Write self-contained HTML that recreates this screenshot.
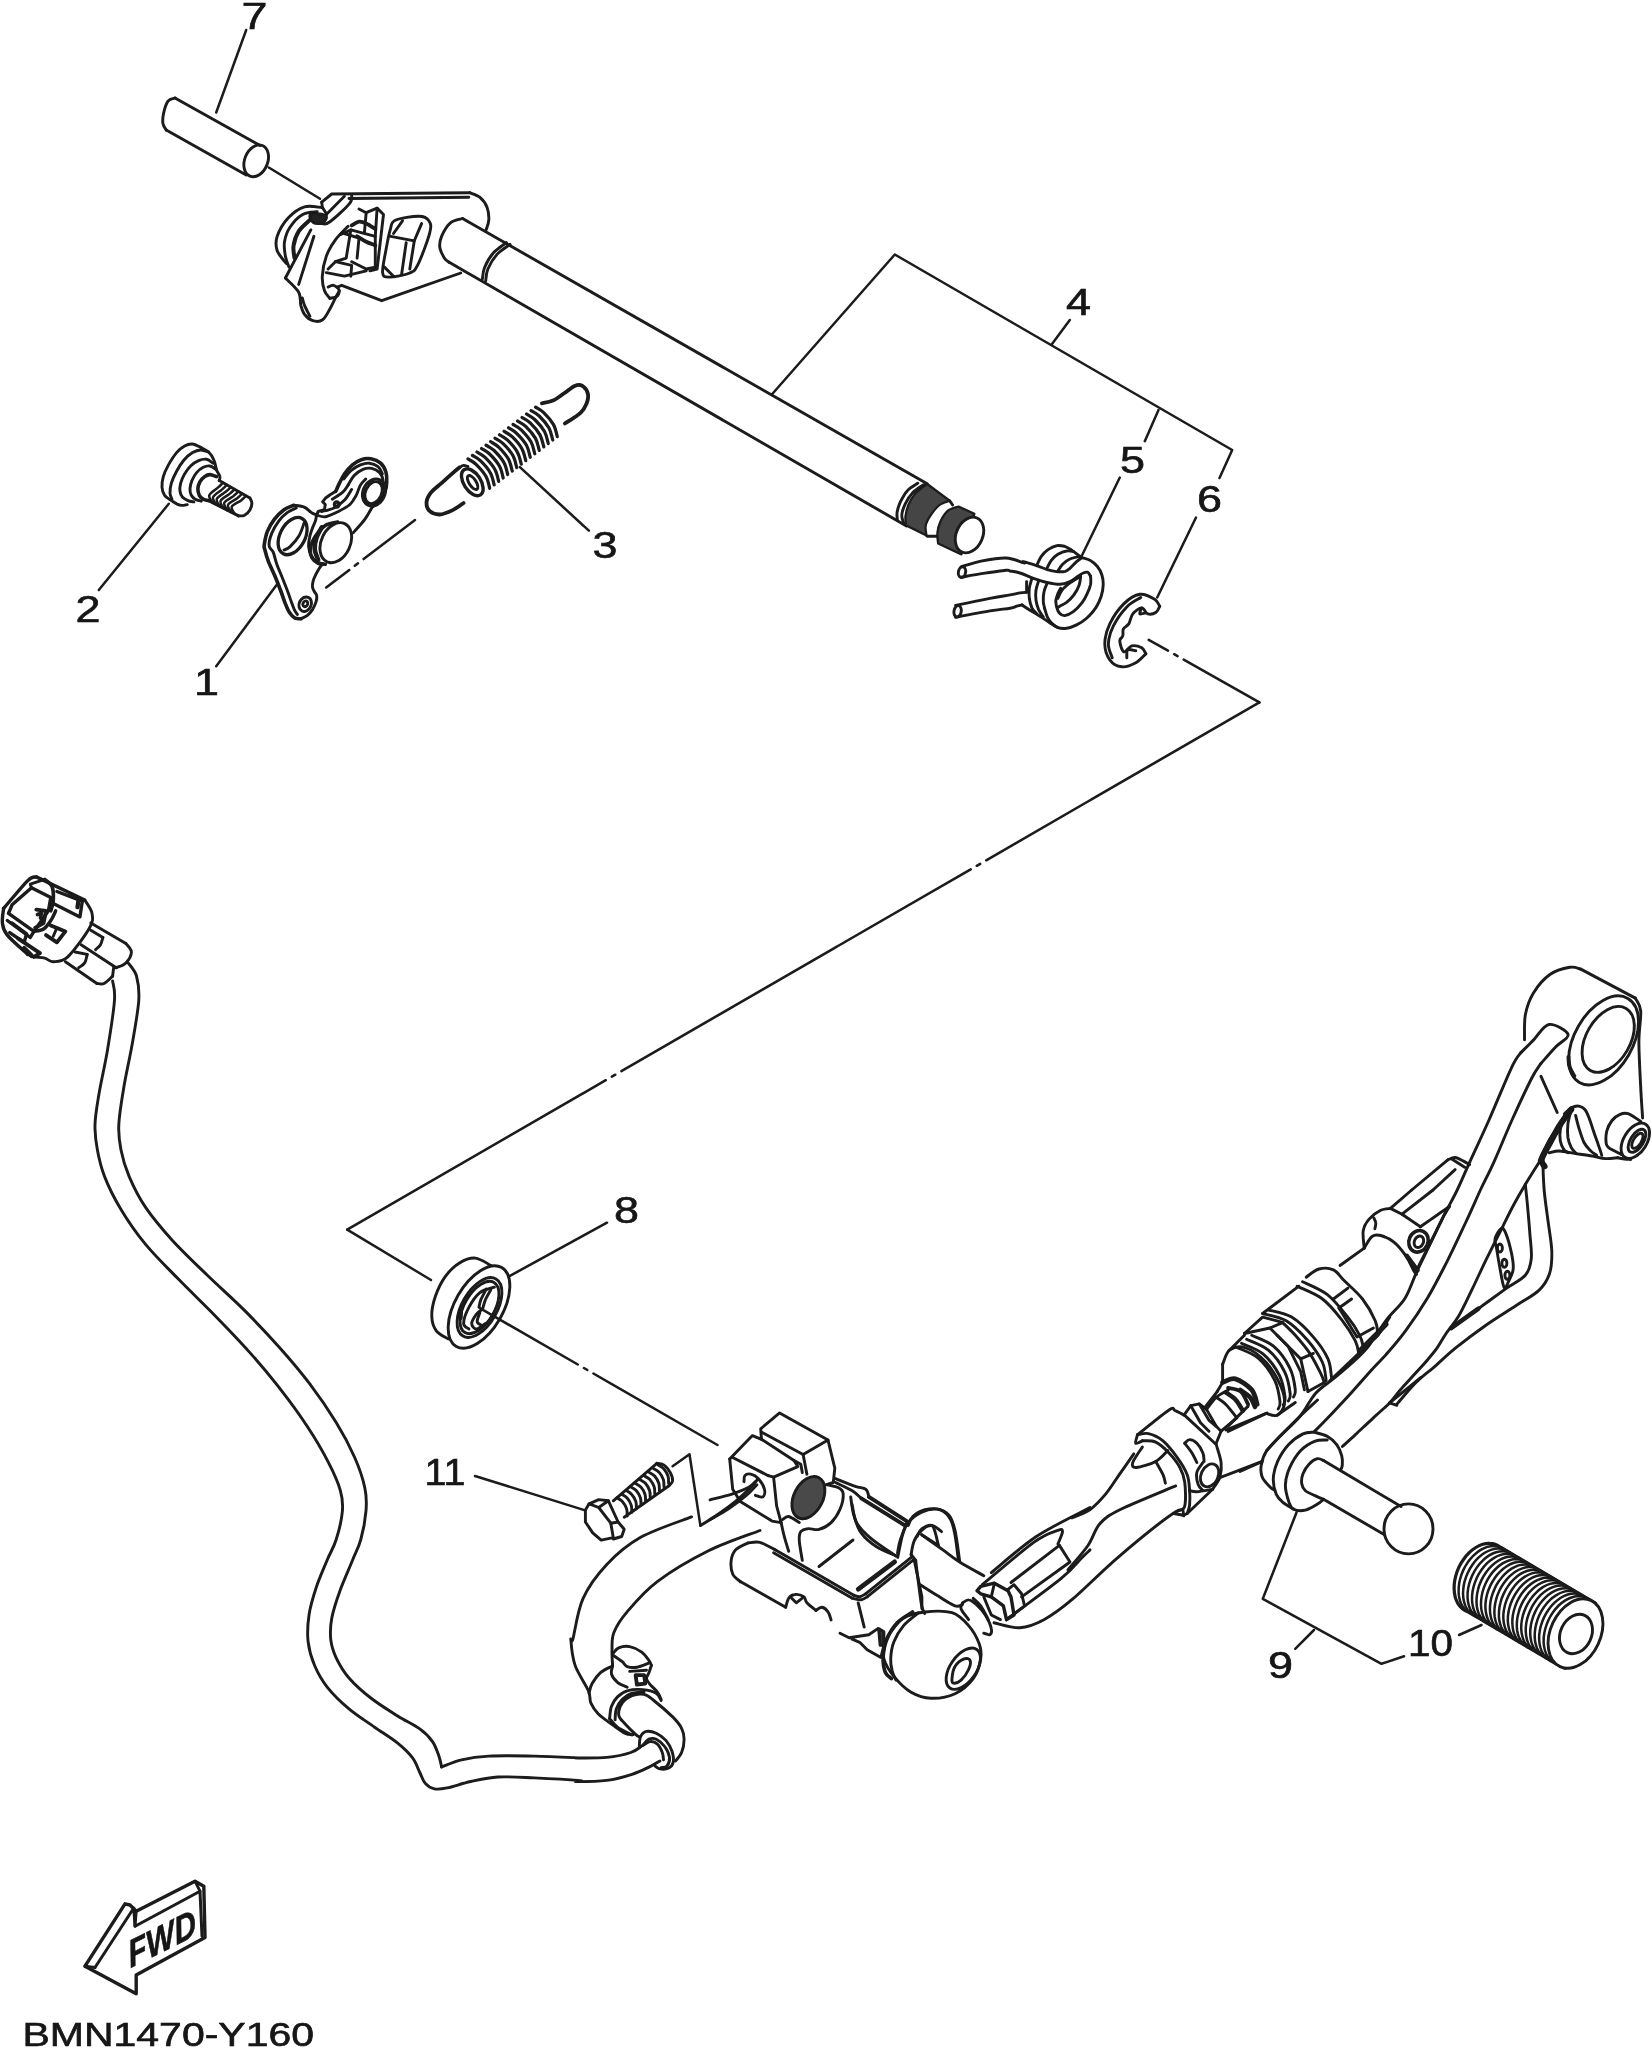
<!DOCTYPE html>
<html lang="en">
<head>
<meta charset="utf-8">
<title>BMN1470-Y160</title>
<style>
html,body{margin:0;padding:0;background:#fff;}
body{width:1652px;height:2049px;overflow:hidden;}
svg{display:block;}
svg path, svg ellipse, svg line, svg circle{fill:none;stroke:#1a1a1a;stroke-width:2.9;stroke-linecap:round;stroke-linejoin:round;}
svg text{font-family:"Liberation Sans",Arial,Helvetica,sans-serif;fill:#141414;stroke:#141414;stroke-width:0.6px;}
</style>
</head>
<body>
<svg width="1652" height="2049" viewBox="0 0 1652 2049">
<defs><filter id="soft" x="-2%" y="-2%" width="104%" height="104%"><feGaussianBlur stdDeviation="0.55"/></filter></defs>
<rect x="0" y="0" width="1652" height="2049" fill="#ffffff" stroke="none"/>
<g filter="url(#soft)">
<!-- pin 7 -->
<path d="M260 145.5 L175 98"/>
<path d="M175 98 C173.8 98.5 169.9 98.6 168 101.2 C166.1 103.9 164.3 110 163.5 113.8 C162.7 117.5 162.5 121 163 123.8 C163.5 126.5 165.7 129 166.2 130"/>
<path d="M166.2 130 L246.2 175"/>
<ellipse cx="256.2" cy="160.8" rx="11.5" ry="16.5" transform="rotate(22 256.2 160.8)"/>
<path d="M246.2 30 L216.2 112.5" style="stroke-width:2.5;"/>
<path d="M268.8 167.5 L320 198.8" style="stroke-width:2.5;"/>
<text x="241.5" y="29" font-size="37" textLength="26" lengthAdjust="spacingAndGlyphs">7</text>
<!-- shift shaft lever (4) -->
<path d="M321.7 202.1 L331.7 194 L469.7 192.7"/>
<path d="M349 198.5 L468.8 197.2"/>
<path d="M469.7 192.7 C471.4 193.4 476.8 194.8 479.7 197.2 C482.6 199.6 485.5 203.4 487 207.2 C488.5 211 489 216.1 488.8 219.9 C488.7 223.7 486.5 228.3 486.1 229.9"/>
<path d="M460.7 273 L381.7 300.7 L341.7 285.3 L337.2 287.1"/>
<path d="M462.5 218.5 C460.5 219.2 454.1 219.7 450.7 222.7 C447.2 225.6 443.4 232.2 441.6 236.3 C439.8 240.4 439.3 243.5 439.8 247.2 C440.2 250.8 442.8 255.6 444.3 258.1 C445.8 260.5 448.1 261.4 448.8 262.1"/>
<path d="M462.5 218.5 L927.2 483.8"/>
<path d="M448.8 262.1 L906.5 526"/>
<path d="M510 244.4 C507.9 246.1 500.7 250.3 497 254.4 C493.3 258.5 489.8 264.6 487.9 269 C486 273.3 486.1 278.8 485.7 280.8"/>
<path d="M506.4 242.6 C504.2 244.4 497 248.8 493.3 253 C489.7 257.1 486.4 263.2 484.6 267.5 C482.8 271.8 482.8 277 482.4 278.9"/>
<path d="M395.3 220.3 C400.1 218 413.3 216.2 418.9 216.3 C424.5 216.4 427.1 218.1 428.9 220.8 C430.7 223.6 431.6 225.4 429.8 232.6 C428 239.9 421.3 257.7 418 264.4 C414.6 271.1 414.6 270.8 409.8 273 C405 275.1 393.5 277.2 388.9 277.1 C384.4 277.1 383.1 277 382.6 272.6 C382.1 268.2 384.6 257.9 385.8 250.8 C387.1 243.7 388.6 235 390.2 229.9 C391.8 224.8 390.5 222.6 395.3 220.3Z"/>
<path d="M390.7 236.3 L414.3 240.8 L409.8 269"/>
<path d="M414.3 240.8 L421.6 223.6"/>
<path d="M406.2 242.6 L401.6 274.4"/>
<path d="M393.5 233.5 L402.5 220.8"/>
<path d="M384.4 267.1 L393.5 276.2"/>
<path d="M310.8 229.9 L285.4 278"/>
<path d="M285.4 278 C287.6 280.4 296.1 287.7 298.7 292.2 C301.2 296.7 299.9 301.6 300.8 305.3 C301.8 309 302.5 311.8 304.5 314.4 C306.4 316.9 309.6 319.8 312.7 320.7 C315.7 321.6 319.8 321.8 322.6 319.8 C325.5 317.8 327.8 312.5 329.9 308.9 C332 305.3 333.8 301 335.4 298 C336.9 295 338.7 292.3 339.3 291.1"/>
<path d="M313.9 236.3 L298.7 284.4"/>
<path d="M302.3 298 C302.7 299.2 303.2 302.3 304.5 305.3 C305.8 308.3 309 314.4 309.9 316.2"/>
<path d="M348.1 226.3 C345.9 228.6 339 234.9 335.4 239.9 C331.7 244.9 328.5 250.2 326.3 256.2 C324.1 262.3 322.6 270.5 322.3 276.2 C322 282 323.2 287.1 324.5 290.8 C325.7 294.4 329 297.1 329.9 298.4"/>
<path d="M329.9 298.4 C331.1 298 335.7 297.6 337.2 296.2 C338.7 294.8 339.6 291.7 339 289.8 C338.4 288 335.4 285.8 333.5 285.3 C331.7 284.8 329 286.8 328.1 287.1"/>
<path d="M321.7 202.1 C321.9 203 321.9 205.5 322.6 207.6 C323.4 209.6 326.3 212 326.3 214.5 C326.3 217 323.2 221.3 322.6 222.7"/>
<path d="M351.7 194.9 C351.3 196.3 353.1 199.1 349.5 203.6 C345.9 208.1 334.5 218.4 329.9 221.7 C325.3 225.1 325.1 223.9 321.7 223.6 C318.4 223.3 311.9 220.5 309.9 219.9"/>
<path d="M344.4 196.3 L326.3 214.5"/>
<path d="M321.7 207.6 C318.9 207.5 310.1 205.1 304.5 206.9 C298.9 208.6 292.7 213.2 288.1 218.1 C283.6 223 279.1 230.8 277.2 236.3 C275.4 241.7 275.7 246.3 277.2 250.8 C278.8 255.3 284.8 261.4 286.3 263.5"/>
<path d="M317.2 211.8 C314.8 212.2 307.2 211.9 302.7 214.5 C298.1 217.1 293 222.7 290 227.2 C286.9 231.7 285.3 236.9 284.5 241.7 C283.7 246.6 284.7 252 285.4 256.2 C286.2 260.5 288.4 265.3 289 267.1"/>
<path d="M309.9 219.9 C308.1 221.7 301.8 226.6 299 230.8 C296.3 235.1 294.3 240.8 293.6 245.4 C292.8 249.9 294.3 255.9 294.5 258.1" style="stroke-width:4;"/>
<path d="M309.9 215.4 C310.5 213.9 314.5 213.4 317.2 213.6 C319.9 213.7 325.4 214.8 326.3 216.3 C327.2 217.8 324.8 221.6 322.6 222.7 C320.5 223.7 315.7 223.9 313.6 222.7 C311.4 221.4 309.3 216.9 309.9 215.4Z" style="fill:#222;"/>
<path d="M350.8 229.9 L375.3 236.3 L375.3 267.1 L366.2 269 L351.7 261.7"/>
<path d="M359 209 L366.2 212.7 L364.4 232.6"/>
<path d="M366.2 212.7 L377.1 208.1 L383.5 214.5 L377.1 269 L369.9 270.8"/>
<path d="M377.1 208.1 L375.3 236.3"/>
<path d="M340.8 234.5 L350.8 229.9 L346.2 258.1 L335.4 261.7 L328.1 269"/>
<path d="M335.4 261.7 L351.7 265.3 L350.8 276.2"/>
<path d="M326.3 272.6 L344.4 276.2 L366.2 270.8"/>
<path d="M351.7 225.4 C352.9 224.8 356.5 222 359 221.7 C361.4 221.4 363.5 222.3 366.2 223.6 C368.9 224.8 373.8 228.1 375.3 229" style="stroke-width:3.8;"/>
<path d="M357.1 236.3 C358.7 237.2 363.2 240.2 366.2 241.7 C369.2 243.2 373.8 244.7 375.3 245.4" style="stroke-width:3.8;"/>
<path d="M344.4 233.5 L359 238.1 L357.1 258.1"/>
<!-- shaft end splines -->
<path d="M917.8 483.2 C916.1 484.5 910.5 487.4 907.6 490.5 C904.7 493.7 902.1 498.5 900.3 502.1 C898.6 505.8 897.6 509.3 897.1 512.3 C896.6 515.3 897.4 519 897.4 520.3"/>
<path d="M923.6 484.7 C921.8 486 915.7 489.5 912.7 492.7 C909.7 495.8 907.2 499.8 905.4 503.6 C903.6 507.3 902 511.8 901.8 515.2 C901.5 518.6 903.6 522.5 904 523.9"/>
<path d="M927.2 484 C925.2 485.7 918 490.6 914.9 494.1 C911.7 497.7 909.9 501.3 908.3 505 C906.8 508.8 905.8 513.3 905.4 516.7 C905.1 520 906 523.9 906.2 525.4 L926.5 535.5 C926.4 533.8 925 528.8 925.8 525.4 C926.5 522 928.5 518.6 930.8 515.2 C933.1 511.8 936.4 507.5 939.6 505 C942.7 502.6 948 501.4 949.7 500.7 Z" style="fill:#444;stroke-width:2.2"/>
<path d="M949.7 500.7 L952.6 505"/>
<path d="M927.2 536.3 L937.4 536.3"/>
<path d="M958.5 506.5 C956.6 507.2 950.6 508.3 947.6 510.8 C944.5 513.4 942 518.1 940.3 521.7 C938.6 525.4 937.7 529 937.4 532.6 C937 536.3 938 541.7 938.1 543.5 L961.4 554.4 L974.4 513.8 Z" style="fill:#444;stroke-width:2.2"/>
<ellipse cx="969.5" cy="535" rx="13.2" ry="18.6" transform="rotate(24 969.5 535)" style="fill:#fff;"/>
<!-- bracket line 4/5/6 -->
<path d="M771.8 394.5 L894.8 254.5 L1232.2 450 L1219.5 478" style="stroke-width:2.5;"/>
<path d="M1069.8 320 L1052.2 343.8" style="stroke-width:2.5;"/>
<path d="M1158.5 410 L1144.8 441.2" style="stroke-width:2.5;"/>
<path d="M1119.8 477.5 L1082.2 555" style="stroke-width:2.5;"/>
<path d="M1196 517.5 L1157.2 597.5" style="stroke-width:2.5;"/>
<text x="1066" y="314.5" font-size="37" textLength="25" lengthAdjust="spacingAndGlyphs">4</text>
<text x="1120" y="472.5" font-size="37" textLength="25" lengthAdjust="spacingAndGlyphs">5</text>
<text x="1197" y="511.5" font-size="37" textLength="25" lengthAdjust="spacingAndGlyphs">6</text>
<!-- torsion spring 5 -->
<path d="M961 566.9 C964.1 566 972.5 562.8 980 561.3 C987.4 559.9 998.6 557.7 1005.9 558 C1013.2 558.2 1021 562.3 1023.9 562.9 C1026.8 563.6 1021.2 561.2 1023.3 561.6 C1025.4 562.1 1032.6 564.3 1036.6 565.6 C1040.6 567 1044 568.6 1047.3 569.6 C1050.6 570.6 1053.6 571.3 1056.6 571.6 C1059.6 571.9 1063 571.8 1065.3 571.3 C1067.5 570.7 1068 569.9 1069.9 568.3 C1071.8 566.7 1074.6 563.4 1076.6 561.6 C1078.6 559.9 1081 558.3 1081.9 557.6"/>
<path d="M961 577.3 C964.1 576.8 972.5 575.1 980 573.9 C987.4 572.8 1000.9 570.8 1005.9 570.3 C1010.9 569.8 1007.7 570.5 1010 571 C1012.3 571.4 1016.1 571.7 1020 573 C1023.9 574.2 1028.9 576.7 1033.3 578.3 C1037.7 579.8 1042.2 581.3 1046.6 582.3 C1051.1 583.3 1056.1 584.4 1059.9 584.3 C1063.8 584.2 1066.9 582.9 1069.9 581.6 C1072.9 580.3 1075.7 577.7 1077.9 576.3 C1080.1 574.8 1081.6 573.6 1083.2 573 C1084.9 572.3 1086.7 571.7 1087.9 572.3 C1089.1 572.8 1090.1 575.6 1090.6 576.3"/>
<ellipse cx="962" cy="572.1" rx="3.6" ry="5.4" transform="rotate(10 962 572.1)"/>
<path d="M955.6 605.3 C961.3 604.1 980.9 600 989.9 598.3 C999 596.6 1005 595.8 1010 594.9 C1015 594 1017.2 593.4 1020 592.9 C1022.8 592.5 1025.5 592.4 1026.6 592.3"/>
<path d="M955.6 617.3 C961.3 616.2 980.9 612.4 989.9 610.9 C999 609.4 1005.5 609 1010 608.2 C1014.5 607.5 1014.7 606.8 1016.7 606.2 C1018.7 605.7 1021.1 605.1 1022 604.9"/>
<ellipse cx="957.6" cy="611.3" rx="3.6" ry="5.8" transform="rotate(10 957.6 611.3)"/>
<path d="M1081.9 557.6 C1083.2 558.1 1087.4 558.9 1089.9 560.3 C1092.5 561.7 1095.2 563.9 1097.2 566.3 C1099.2 568.7 1100.9 571.8 1101.9 575 C1102.9 578.1 1103.3 581.4 1103.2 584.9 C1103.1 588.5 1102.4 592.5 1101.2 596.3 C1100 600 1098.3 603.9 1095.9 607.6 C1093.5 611.2 1089.8 615.3 1086.6 618.2 C1083.4 621.1 1079.9 623.2 1076.6 624.9 C1073.3 626.6 1069.7 627.8 1066.6 628.2 C1063.5 628.7 1060.5 628.4 1057.9 627.6 C1055.4 626.7 1053.1 624.7 1051.3 622.9 C1049.5 621.1 1048.4 619.3 1047.3 616.9 C1046.2 614.5 1045.1 609.7 1044.6 608.2"/>
<path d="M1090.6 576.3 C1090.6 577.6 1091.1 581.4 1090.6 584.3 C1090 587.2 1088.7 590.5 1087.2 593.6 C1085.8 596.7 1084.2 599.9 1081.9 602.9 C1079.6 605.9 1076.1 609.5 1073.3 611.6 C1070.4 613.7 1066.9 615.3 1064.6 615.6 C1062.3 615.8 1060.6 614.3 1059.3 612.9 C1057.9 611.5 1057.2 609 1056.6 606.9 C1056.1 604.8 1055.7 602.5 1055.9 600.3 C1056.2 598 1057.2 595.6 1057.9 593.6 C1058.7 591.6 1060.2 589.2 1060.6 588.3"/>
<path d="M1080.6 576.3 C1080.4 577.7 1080.4 581.8 1079.2 584.9 C1078.1 588 1076 592 1073.9 594.9 C1071.8 597.8 1069.2 600.3 1066.6 602.3 C1064 604.2 1059.9 606.1 1058.6 606.9"/>
<path d="M1080.6 576.3 C1078.8 577.4 1073 580.6 1069.9 582.9 C1066.8 585.3 1063.9 587.7 1061.9 590.3 C1059.9 592.8 1058.6 596.9 1057.9 598.3"/>
<path d="M1037.3 564.3 C1038 563 1039.5 558.7 1041.3 556.3 C1043.1 553.9 1045.4 551.4 1048 549.6 C1050.5 547.9 1053.8 546.2 1056.6 545.7 C1059.4 545.1 1062.4 545.8 1064.6 546.3 C1066.8 546.9 1067 547.1 1069.9 549 C1072.8 550.9 1079.9 556.2 1081.9 557.6"/>
<path d="M1047.3 567.6 C1048 566.4 1049.5 562.5 1051.3 560.3 C1053.1 558.1 1055.4 555.9 1057.9 554.3 C1060.5 552.8 1063.9 551.4 1066.6 551 C1069.3 550.5 1072.7 551.5 1073.9 551.6"/>
<path d="M1057.9 571 C1058.7 569.8 1060.6 566.3 1062.6 564.3 C1064.6 562.3 1067 560.3 1069.9 559 C1072.8 557.6 1078.3 556.8 1079.9 556.3"/>
<path d="M1032 578.3 C1031.5 579.9 1029.8 584.9 1029.3 588.3 C1028.9 591.6 1028.9 594.9 1029.3 598.3 C1029.8 601.6 1030.8 605.7 1032 608.2 C1033.2 610.8 1035.9 612.7 1036.6 613.6"/>
<path d="M1038.6 580.9 C1038.2 582.5 1036.4 587 1036 590.3 C1035.5 593.5 1035.5 597 1036 600.3 C1036.4 603.5 1037.4 606.8 1038.6 609.6 C1039.9 612.4 1042.5 615.7 1043.3 616.9"/>
<path d="M1047.3 582.9 C1046.7 584.4 1044.6 588.5 1044 591.6 C1043.3 594.7 1043.2 598.8 1043.3 601.6 C1043.4 604.4 1044.4 607.1 1044.6 608.2"/>
<path d="M1026.6 592.3 L1026.6 581.6"/>
<path d="M1022 604.9 C1023.3 605.8 1027 608.4 1030 610.2 C1033 612.1 1036.6 614.1 1040 616.2 C1043.3 618.3 1047 621 1050 622.9 C1052.9 624.8 1056.6 626.8 1057.9 627.6"/>
<!-- e-clip 6 -->
<path d="M1159.7 606.3 C1158.9 605.1 1158.1 601.3 1154.7 599.3 C1151.4 597.3 1144.9 593.5 1139.8 594.3 C1134.6 595.1 1128.8 599 1123.8 603.9 C1118.8 608.8 1113 617.2 1109.8 623.9 C1106.6 630.5 1104.8 637.9 1104.8 643.8 C1104.8 649.8 1107 656 1109.8 659.8 C1112.6 663.7 1117.5 666.3 1121.8 666.8 C1126.1 667.3 1131.8 665 1135.8 662.8 C1139.8 660.7 1144.1 655.3 1145.8 653.8"/>
<path d="M1140.8 597.5 C1138.4 599.1 1131.3 602.2 1126.8 606.9 C1122.2 611.6 1116.5 619.7 1113.4 625.9 C1110.3 632 1108.6 638.5 1108.4 643.8 C1108.2 649.2 1111.6 655.5 1112.2 657.8"/>
<path d="M1159.7 606.3 C1159.1 607.3 1158.1 611 1156.1 612.3 C1154.1 613.6 1150.1 614.6 1147.7 613.9 C1145.4 613.2 1144.3 607.9 1141.8 607.9 C1139.3 607.9 1134.9 611.2 1132.8 613.9 C1130.6 616.5 1130.3 621.4 1128.8 623.9 C1127.2 626.4 1124.4 626.9 1123.4 628.9 C1122.4 630.9 1123.4 633.9 1122.8 635.9 C1122.2 637.9 1119.6 638.2 1119.8 640.9 C1119.9 643.5 1121.8 651 1123.8 651.8 C1125.8 652.7 1128.8 646.5 1131.8 645.8 C1134.8 645.2 1139.4 646.5 1141.8 647.8 C1144.1 649.2 1145.1 652.8 1145.8 653.8"/>
<path d="M1141.8 607.9 C1141.4 608.9 1139.1 613.1 1139.8 613.9 C1140.4 614.7 1144.8 613.1 1145.8 612.9"/>
<path d="M1126.8 657.8 C1126.9 656.5 1126.3 651 1127.8 649.8 C1129.3 648.7 1134.4 650.7 1135.8 650.8"/>
<path d="M1148.7 639.9 L1168 650.7" style="stroke-width:2.5;"/>
<path d="M1174.1 654.2 L1177.6 656.2" style="stroke-width:2.5;"/>
<path d="M1183.7 659.6 L1259.4 702.4" style="stroke-width:2.5;"/>
<path d="M1259.4 702.4 L986.2 860.3" style="stroke-width:2.5;"/>
<path d="M980.2 863.8 L976.7 865.8" style="stroke-width:2.5;"/>
<path d="M970.7 869.3 L621.4 1071.2" style="stroke-width:2.5;"/>
<path d="M615.3 1074.7 L611.8 1076.7" style="stroke-width:2.5;"/>
<path d="M605.8 1080.2 L347.2 1229.6" style="stroke-width:2.5;"/>
<path d="M347.2 1229.6 L431 1280" style="stroke-width:2.5;"/>
<!-- screw 2 -->
<path d="M200.6 447.3 C199.3 446.8 195.3 444.2 192.6 444 C190 443.8 187.3 444.5 184.6 446 C182 447.4 179.3 449.5 176.6 452.6 C174 455.7 170.9 460.6 168.6 464.6 C166.4 468.6 164.4 472.8 163.3 476.6 C162.2 480.4 161.8 484.2 162 487.3 C162.2 490.4 163.1 493 164.6 495.3 C166.2 497.5 168.8 498.9 171.3 500.6 C173.9 502.2 177.3 504.6 180 505.2 C182.6 505.9 186.1 504.7 187.3 504.6"/>
<path d="M208.6 452 C207.3 451.6 203.3 449.9 200.6 450 C197.9 450.1 195.4 451 192.6 452.6 C189.8 454.3 186.6 456.9 184 460 C181.3 463.1 178.7 467.4 176.6 471.3 C174.5 475.2 172.4 479.6 171.3 483.3 C170.2 486.9 169.9 490.6 170 493.3 C170.1 495.9 171.6 498.3 172 499.2"/>
<path d="M213.3 463.3 C212.1 462.6 209 459.7 206.6 459.3 C204.2 458.9 201.3 459.5 198.6 460.6 C195.9 461.7 192.9 463.7 190.6 466 C188.3 468.2 186.3 471.1 184.6 473.9 C183 476.8 181.4 480.4 180.6 483.3 C179.9 486.2 179.6 488.9 180 491.3 C180.3 493.6 181.3 495.7 182.6 497.3 C184 498.8 186.1 499.8 188 500.6 C189.8 501.4 192.9 501.7 193.9 501.9"/>
<path d="M216.6 470 C215.5 469.3 212.1 466.4 209.9 466 C207.7 465.5 205.5 466.2 203.3 467.3 C201 468.4 198.5 470.4 196.6 472.6 C194.7 474.8 193.1 477.9 191.9 480.6 C190.8 483.3 190.1 486.2 190 488.6 C189.8 491 190.4 493.5 191.3 495.3 C192.2 497 193.6 498.3 195.3 499.2 C196.9 500.2 200.3 500.9 201.3 501.2"/>
<path d="M216.6 476.6 C215.5 476.3 211.9 474.6 209.9 474.6 C207.9 474.6 206.3 475.4 204.6 476.6 C202.9 477.8 201 479.9 199.9 481.9 C198.8 483.9 198.1 486.4 197.9 488.6 C197.8 490.8 198.4 493.5 199.3 495.3 C200.2 497 201.7 498.4 203.3 499.2 C204.8 500.1 207.7 500.4 208.6 500.6" style="stroke-width:3.6;"/>
<path d="M200.6 447.3 C201.9 448.1 206.4 449.9 208.6 452 C210.8 454.1 212.6 457 213.9 460 C215.3 463 215.6 467.2 216.6 470 C217.6 472.7 219.5 474.8 219.9 476.6 C220.4 478.4 219.4 479.9 219.2 480.6"/>
<path d="M219.2 480.6 L249.9 497.9"/>
<path d="M208.6 500.6 L238.6 515.9"/>
<path d="M249.9 497.9 C250.2 498.8 251.9 501.2 251.9 503.2 C251.9 505.2 251.1 507.9 249.9 509.9 C248.7 511.9 246.4 514.2 244.6 515.2 C242.7 516.2 239.6 515.8 238.6 515.9"/>
<path d="M223.1 482.8 C222.2 483.5 220.4 485.4 218.1 487.4 C215.8 489.5 210.3 492.7 209.3 495.2 C208.4 497.7 211.8 501.3 212.3 502.5" style="stroke-width:2.5;"/>
<path d="M226.9 484.9 C226.1 485.7 224.2 487.6 221.9 489.6 C219.6 491.6 214.1 494.6 213.1 497.1 C212.1 499.6 215.6 503.2 216.1 504.4" style="stroke-width:2.5;"/>
<path d="M230.7 487.1 C229.9 487.9 228.1 489.8 225.7 491.8 C223.4 493.7 217.8 496.6 216.8 499 C215.9 501.4 219.3 505.1 219.8 506.3" style="stroke-width:2.5;"/>
<path d="M234.6 489.3 C233.7 490 231.9 492 229.6 493.9 C227.2 495.9 221.6 498.5 220.6 500.9 C219.6 503.3 223.1 507 223.6 508.2" style="stroke-width:2.5;"/>
<path d="M238.4 491.4 C237.6 492.2 235.7 494.2 233.4 496.1 C231.1 498 225.3 500.5 224.3 502.8 C223.3 505.2 226.8 508.9 227.3 510.2" style="stroke-width:2.5;"/>
<path d="M242.2 493.6 C241.4 494.4 239.6 496.4 237.2 498.3 C234.9 500.1 229.1 502.4 228.1 504.7 C227 507 230.6 510.8 231.1 512.1" style="stroke-width:2.5;"/>
<path d="M246.1 495.8 C245.2 496.5 243.4 498.6 241.1 500.4 C238.7 502.2 232.9 504.4 231.8 506.7 C230.8 508.9 234.3 512.8 234.8 514" style="stroke-width:2.5;"/>
<path d="M98.8 590 L168.8 503.8" style="stroke-width:2.5;"/>
<text x="75.5" y="621.5" font-size="37" textLength="25" lengthAdjust="spacingAndGlyphs">2</text>
<!-- stopper lever 1 -->
<path d="M293.6 505.3 C292 506.1 287.2 507.4 284 509.7 C280.8 512.1 277.1 515.7 274.3 519.4 C271.5 523 269 527.4 267.3 531.7 C265.6 535.9 264.7 542 264.2 544.9 C263.8 547.8 264 546.4 264.7 549.1 C265.4 551.8 266.6 556.7 268.3 561.2 C270 565.7 272.9 571.2 275 576.3 C277.1 581.3 279.3 587 281 591.5 C282.7 596 283.9 600.1 285.3 603.6 C286.7 607.1 287.9 610.2 289.5 612.6 C291.1 615 293.1 617.1 295 618.1 C296.9 619.1 300 618.6 301 618.7" style="stroke-width:3.6;"/>
<path d="M296.3 508 C294.8 508.7 290.4 510.2 287.5 512.4 C284.6 514.6 281.3 517.6 278.7 521.1 C276.1 524.7 273.3 529.3 271.7 533.4 C270.1 537.5 268.8 542.6 269.1 545.7 C269.3 548.8 271.9 549 273.2 552.1 C274.5 555.2 275.3 560 276.8 564.2 C278.3 568.4 280.4 573 282.2 577.5 C284 582 286.2 587.5 287.7 591.5 C289.2 595.5 290.2 598.7 291.3 601.7 C292.4 604.7 293.3 607.5 294.3 609.6 C295.3 611.7 296.9 613.7 297.4 614.5"/>
<path d="M301 618.7 C302 618.2 305.2 617.2 307.1 615.7 C309 614.2 311 611.9 312.5 609.6 C314 607.3 315.4 604 316.1 601.7 C316.8 599.4 317 597.4 316.7 595.7 C316.4 594 315 592.9 314.3 591.5 C313.6 590.1 312.7 588.9 312.5 587.2 C312.3 585.5 312.6 583.2 313.1 581.2 C313.6 579.2 314.5 577.2 315.5 575.1 C316.5 573 318.1 570.3 319.2 568.5 C320.3 566.7 321.7 564.9 322.2 564.2"/>
<path d="M293.6 505.3 C295.4 505.6 301.3 505.9 304.2 507.1 C307.1 508.3 309.2 511 311.2 512.4 C313.3 513.7 315.6 514.6 316.5 515"/>
<path d="M316.5 515 L318.2 511.5 L324.4 509.7 L325.3 504.5 L322.6 501.8 L325.3 498.3 L331.4 493.9 L335.8 491.3"/>
<path d="M316.5 515 C316.3 515.9 316.3 517.9 315.6 520.3 C314.9 522.6 313.1 526.1 312.1 529 C311.1 532 310 534.9 309.5 537.8 C308.9 540.8 308.3 543.7 308.6 546.6 C308.9 549.5 309.9 552.9 311.2 555.4 C312.5 557.9 314.4 560.1 316.5 561.5 C318.5 563 322.3 563.7 323.5 564.2"/>
<ellipse cx="292.6" cy="536.1" rx="12.5" ry="20" transform="rotate(28 292.6 536.1)" style="stroke-width:3.3;"/>
<path d="M304.2 522.9 C303.3 525.1 301.3 532.1 298.9 536.1 C296.6 540 292.6 544.3 290.1 546.6 C287.6 549 285 549.5 284 550.1"/>
<ellipse cx="335.8" cy="542.7" rx="14.5" ry="21" transform="rotate(25 335.8 542.7)"/>
<path d="M337.6 522 C335.5 522.6 328.9 523.2 325.3 525.5 C321.6 527.9 318.1 532.3 315.6 536.1 C313.1 539.9 310.9 544.7 310.3 548.4 C309.7 552 310.8 555.5 312.1 558 C313.4 560.5 316 562.3 318.2 563.3 C320.4 564.3 324.1 564 325.3 564.2" style="stroke-width:3.6;"/>
<path d="M321.8 527.3 C320.9 529 317.7 534.2 316.5 537.8 C315.3 541.5 314.4 545.6 314.7 549.2 C315 552.9 317.7 558 318.2 559.8" style="stroke-width:4.5;"/>
<path d="M335.8 491.3 C336.4 490 337.9 486.3 339.3 483.4 C340.8 480.4 342.4 476.8 344.6 473.7 C346.8 470.6 349.7 467.3 352.5 464.9 C355.3 462.6 358.2 460.7 361.3 459.7 C364.3 458.6 367.7 458.2 370.9 458.8 C374.2 459.4 378.1 461 380.6 463.2 C383.1 465.4 384.8 468.7 385.9 472 C386.9 475.2 386.9 479.3 386.7 482.5 C386.6 485.7 386.5 487.9 385 491.3 C383.5 494.6 380 500.2 378 502.7 C375.9 505.2 373.6 505.6 372.7 506.2" style="stroke-width:3.6;"/>
<path d="M372.7 506.2 C371.4 508.4 368 515 364.8 519.4 C361.6 523.8 355.3 530.4 353.4 532.6"/>
<path d="M316.5 515 C317.9 515.3 321.6 517.3 325.3 516.8 C328.9 516.2 334.3 513.5 338.4 511.5 C342.5 509.4 346.9 507.1 349.9 504.5 C352.8 501.8 354.2 498.9 356 495.7 C357.8 492.5 358.8 487.9 360.4 485.1 C362 482.4 364.8 480 365.7 479"/>
<path d="M343.7 479 C345 477.5 348.8 472.5 351.6 470.2 C354.4 467.9 357.5 466.1 360.4 464.9 C363.3 463.8 366.3 462.9 369.2 463.2 C372.1 463.5 375.8 464.9 378 466.7 C380.2 468.4 381.6 472.5 382.4 473.7"/>
<path d="M348.1 485.1 C349.1 483.5 351.8 478.1 354.2 475.5 C356.7 472.8 360.1 470.5 363 469.3 C366 468.2 369 467.9 371.8 468.4 C374.6 469 377.8 470.8 379.7 472.8 C381.6 474.9 382.8 478 383.2 480.7 C383.7 483.5 382.5 488.1 382.4 489.5"/>
<path d="M332.3 499.2 C334 498 340.2 494.5 342.8 492.2 C345.5 489.8 347.2 486.3 348.1 485.1"/>
<path d="M321.8 511.5 C323.8 510.9 330.2 509.9 334 508 C337.9 506.1 341.7 503.1 344.6 500.1 C347.5 497 350.4 491.3 351.6 489.5"/>
<ellipse cx="336.7" cy="504.5" rx="2.2" ry="2.6" style="stroke-width:3.5;"/>
<ellipse cx="373.6" cy="492.6" rx="8" ry="11.5" transform="rotate(25 373.6 492.6)"/>
<ellipse cx="374" cy="492.6" rx="11" ry="14" transform="rotate(25 374 492.6)"/>
<ellipse cx="305.2" cy="604.2" rx="6" ry="7.5" transform="rotate(25 305.2 604.2)"/>
<ellipse cx="305.3" cy="603.8" rx="2.3" ry="3" transform="rotate(25 305.3 603.8)"/>
<path d="M216.2 666.2 L277.5 583.8" style="stroke-width:2.5;"/>
<text x="194" y="695" font-size="37" textLength="25" lengthAdjust="spacingAndGlyphs">1</text>
<path d="M326.2 587.5 L349.3 570" style="stroke-width:2.5;"/>
<path d="M354.8 565.8 L358 563.3" style="stroke-width:2.5;"/>
<path d="M363.6 559.1 L415 520" style="stroke-width:2.5;"/>
<!-- spring 3 -->
<path d="M459.2 467.6 C458.1 468.5 455.6 470.5 452.7 473.1 C449.8 475.6 445.4 479.6 441.8 482.9 C438.2 486.1 433.4 489.4 430.9 492.7 C428.4 495.9 426.7 499.4 426.5 502.5 C426.4 505.6 427.6 509.2 429.8 511.2 C432 513.2 435.8 514.6 439.6 514.5 C443.4 514.3 448.7 512 452.7 510.1 C456.7 508.2 461.8 504.2 463.6 503" style="stroke-width:3.8;"/>
<path d="M542 403.3 C543.8 402.9 549.3 402.2 552.9 400.6 C556.6 399 560.2 396 563.8 393.5 C567.5 391.1 571.6 387.2 574.7 385.9 C577.8 384.6 580.2 384.6 582.3 385.9 C584.5 387.2 587.1 390.6 587.8 393.5 C588.5 396.4 588 400.1 586.7 403.3 C585.4 406.6 583.8 409.8 580.2 413.1 C576.5 416.5 567.5 421.8 564.9 423.5" style="stroke-width:3.8;"/>
<path d="M467.9 458.9 C469.3 459.8 473.1 461.4 476.1 464.3 C479.1 467.3 483.7 472.3 485.9 476.3 C488.2 480.3 489.1 486.3 489.7 488.3" style="stroke-width:3.2;"/>
<path d="M472.4 455.4 C473.8 456.4 477.6 458 480.6 460.9 C483.6 463.8 488.2 468.9 490.4 472.9 C492.7 476.9 493.6 482.9 494.2 484.9" style="stroke-width:3.2;"/>
<path d="M476.9 452 C478.3 452.9 482.1 454.5 485.1 457.4 C488.1 460.4 492.7 465.4 494.9 469.4 C497.2 473.4 498.1 479.4 498.7 481.4" style="stroke-width:3.2;"/>
<path d="M481.5 448.5 C482.8 449.5 486.6 451.1 489.6 454 C492.6 456.9 497.2 462 499.4 466 C501.7 470 502.6 476 503.2 478" style="stroke-width:3.2;"/>
<path d="M486 445.1 C487.3 446 491.1 447.6 494.1 450.5 C497.1 453.5 501.7 458.5 503.9 462.5 C506.2 466.5 507.1 472.5 507.7 474.5" style="stroke-width:3.2;"/>
<path d="M490.5 441.6 C491.8 442.6 495.6 444.2 498.6 447.1 C501.6 450 506.2 455.1 508.4 459.1 C510.7 463.1 511.6 469.1 512.3 471.1" style="stroke-width:3.2;"/>
<path d="M495 438.2 C496.3 439.1 500.1 440.7 503.1 443.6 C506.1 446.5 510.7 451.6 512.9 455.6 C515.2 459.6 516.1 465.6 516.8 467.6" style="stroke-width:3.2;"/>
<path d="M499.5 434.7 C500.8 435.7 504.6 437.3 507.6 440.2 C510.6 443.1 515.2 448.2 517.4 452.2 C519.7 456.2 520.6 462.2 521.3 464.2" style="stroke-width:3.2;"/>
<path d="M504 431.3 C505.3 432.2 509.1 433.8 512.1 436.7 C515.1 439.6 519.7 444.7 521.9 448.7 C524.2 452.7 525.1 458.7 525.8 460.7" style="stroke-width:3.2;"/>
<path d="M508.5 427.8 C509.8 428.8 513.7 430.4 516.6 433.3 C519.6 436.2 524.2 441.3 526.5 445.3 C528.7 449.3 529.6 455.3 530.3 457.3" style="stroke-width:3.2;"/>
<path d="M513 424.4 C514.3 425.3 518.2 426.9 521.2 429.8 C524.1 432.7 528.7 437.8 531 441.8 C533.2 445.8 534.1 451.8 534.8 453.8" style="stroke-width:3.2;"/>
<path d="M517.5 420.9 C518.8 421.9 522.7 423.5 525.7 426.4 C528.7 429.3 533.2 434.4 535.5 438.4 C537.7 442.4 538.6 448.4 539.3 450.4" style="stroke-width:3.2;"/>
<path d="M522 417.5 C523.3 418.4 527.2 420 530.2 422.9 C533.2 425.8 537.7 430.9 540 434.9 C542.2 438.9 543.1 444.9 543.8 446.9" style="stroke-width:3.2;"/>
<path d="M526.5 414 C527.9 415 531.7 416.6 534.7 419.5 C537.7 422.4 542.2 427.5 544.5 431.5 C546.7 435.5 547.6 441.5 548.3 443.5" style="stroke-width:3.2;"/>
<path d="M531 410.6 C532.4 411.5 536.2 413.1 539.2 416 C542.2 418.9 546.7 424 549 428 C551.2 432 552.1 438 552.8 440" style="stroke-width:3.2;"/>
<path d="M535.5 407.1 C536.9 408.1 540.7 409.7 543.7 412.6 C546.7 415.5 551.2 420.6 553.5 424.6 C555.7 428.6 556.7 434.6 557.3 436.6" style="stroke-width:3.2;"/>
<ellipse cx="472.3" cy="482.3" rx="8.5" ry="15" transform="rotate(-33 472.3 482.3)" style="stroke-width:3.4;"/>
<ellipse cx="472.6" cy="482.5" rx="3.5" ry="8" transform="rotate(-33 472.6 482.5)"/>
<path d="M459.2 467.6 C460 467.3 462.1 465.6 463.6 465.4 C465 465.3 467.2 466.3 467.9 466.5"/>
<path d="M519.9 467.1 L588.9 530.7" style="stroke-width:2.5;"/>
<text x="592.5" y="557.5" font-size="37" textLength="25" lengthAdjust="spacingAndGlyphs">3</text>
<!-- oil seal 8 -->
<ellipse cx="479" cy="1307" rx="24" ry="45.5" transform="rotate(30 479 1307)"/>
<ellipse cx="479.5" cy="1307.5" rx="17.5" ry="33" transform="rotate(30 479.5 1307.5)"/>
<ellipse cx="479.5" cy="1307.5" rx="15" ry="29" transform="rotate(30 479.5 1307.5)"/>
<path d="M490.8 1265.4 C488.2 1264.2 480.5 1258.6 475.4 1258.1 C470.2 1257.7 464.9 1259.6 459.9 1262.7 C454.9 1265.7 449.5 1270.7 445.4 1276.3 C441.3 1281.9 437.7 1289.6 435.4 1296.3 C433.1 1302.9 431.6 1310.5 431.8 1316.2 C431.9 1322 433.6 1327 436.3 1330.8 C439 1334.6 446.2 1337.6 448.1 1338.9"/>
<path d="M494.4 1287.2 C492 1288.1 484.1 1289.3 479.9 1292.6 C475.7 1296 471.7 1302 469 1307.2 C466.3 1312.3 463.6 1319.9 463.6 1323.5 C463.6 1327.1 468.1 1328.1 469 1329"/>
<path d="M490.8 1289.9 C489.9 1291.6 486.7 1296.7 485.4 1299.9 C484 1303.1 483.1 1307.5 482.6 1309"/>
<path d="M486.3 1289 C485.4 1290.8 482 1296.9 480.8 1299.9 C479.6 1302.9 479.3 1306 479 1307.2"/>
<path d="M482.6 1309 C481.6 1309.9 478.1 1312 476.3 1314.4 C474.5 1316.9 471.7 1321.1 471.7 1323.5 C471.7 1325.9 474 1329 476.3 1329 C478.5 1329 483.8 1324.4 485.4 1323.5"/>
<path d="M479.9 1312.6 C479.4 1314.1 476.9 1319.6 477.2 1321.7 C477.5 1323.8 481 1324.7 481.7 1325.3"/>
<path d="M467.2 1296.3 C466.3 1298.1 462.8 1303.5 461.7 1307.2 C460.7 1310.8 461 1316.2 460.8 1318.1" style="stroke-width:3.8;"/>
<path d="M509 1276.3 L607 1222.7" style="stroke-width:2.5;"/>
<text x="614" y="1223" font-size="37" textLength="25" lengthAdjust="spacingAndGlyphs">8</text>
<path d="M479.9 1308.1 L577.8 1364.5" style="stroke-width:2.5;"/>
<path d="M583.9 1368 L587.4 1370" style="stroke-width:2.5;"/>
<path d="M593.4 1373.5 L717.5 1445" style="stroke-width:2.5;"/>
<!-- bolt 11 -->
<path d="M585.4 1509.9 L589.1 1503.8 L598.7 1507.5 L610.8 1523.2 L613.3 1537.7 L601.2 1540.2 L592.7 1532.9 L585.4 1522Z"/>
<path d="M589.1 1503.8 L598.7 1499.6 L608.4 1500.8 L618.1 1522 L610.8 1523.2"/>
<path d="M608.4 1500.8 L598.7 1507.5"/>
<path d="M618.1 1522 L624.2 1529.3 L621.7 1536.5 L613.3 1539"/>
<path d="M613.3 1500.8 L656.9 1463.3"/>
<path d="M624.2 1517.2 L669 1485.7"/>
<path d="M656.9 1463.3 C658.1 1463.6 661.9 1463.6 664.1 1465.1 C666.3 1466.6 668.8 1469.7 670.2 1472.4 C671.6 1475 672.8 1478.6 672.6 1480.8 C672.4 1483.1 669.6 1484.9 669 1485.7"/>
<path d="M616.9 1497.8 C617.8 1498.4 620.7 1499.6 622.3 1501.4 C624 1503.2 625.8 1506.3 626.6 1508.7 C627.4 1511.1 627.1 1514.7 627.2 1516"/>
<path d="M621.5 1494.2 C622.4 1494.8 625.3 1496 626.9 1497.8 C628.6 1499.6 630.4 1502.6 631.2 1505.1 C632 1507.5 631.7 1511.1 631.8 1512.3"/>
<path d="M626.1 1490.5 C627 1491.1 629.9 1492.3 631.5 1494.2 C633.2 1496 635 1499 635.8 1501.4 C636.6 1503.8 636.3 1507.5 636.4 1508.7"/>
<path d="M630.7 1486.9 C631.6 1487.5 634.5 1488.7 636.2 1490.5 C637.8 1492.3 639.6 1495.4 640.4 1497.8 C641.2 1500.2 640.9 1503.8 641 1505.1"/>
<path d="M635.3 1483.3 C636.2 1483.9 639.1 1485.1 640.8 1486.9 C642.4 1488.7 644.2 1491.7 645 1494.2 C645.8 1496.6 645.5 1500.2 645.6 1501.4"/>
<path d="M639.9 1479.6 C640.8 1480.2 643.7 1481.5 645.4 1483.3 C647 1485.1 648.8 1488.1 649.6 1490.5 C650.4 1493 650.1 1496.6 650.2 1497.8"/>
<path d="M644.5 1476 C645.4 1476.6 648.3 1477.8 650 1479.6 C651.6 1481.5 653.4 1484.5 654.2 1486.9 C655 1489.3 654.7 1493 654.8 1494.2"/>
<path d="M649.1 1472.4 C650 1473 652.9 1474.2 654.6 1476 C656.2 1477.8 658 1480.8 658.8 1483.3 C659.6 1485.7 659.3 1489.3 659.4 1490.5"/>
<path d="M653.7 1468.7 C654.6 1469.3 657.5 1470.6 659.2 1472.4 C660.8 1474.2 662.6 1477.2 663.4 1479.6 C664.2 1482.1 663.9 1485.7 664 1486.9"/>
<path d="M658.3 1465.1 C659.2 1465.7 662.1 1466.9 663.8 1468.7 C665.4 1470.6 667.2 1473.6 668 1476 C668.8 1478.4 668.5 1482.1 668.6 1483.3"/>
<path d="M475 1476 L583.6 1509.9" style="stroke-width:2.5;"/>
<text x="424.5" y="1485" font-size="37" textLength="41" lengthAdjust="spacingAndGlyphs">11</text>
<path d="M672.6 1466.3 L689.5 1454.2 L700.4 1525.6" style="stroke-width:2.5;"/>
<path d="M700.4 1525.6 C703.3 1523.8 711.5 1518.8 717.4 1514.7 C723.2 1510.7 729.9 1506.1 735.5 1501.4 C741.2 1496.8 747.7 1490.5 751.3 1486.9 C754.9 1483.3 756.3 1480.8 757.3 1479.6"/>
<!-- connector -->
<path d="M3.6 908.4 C7.7 903.8 22.4 885.8 27.8 880.6 C33.3 875.3 34.9 877.6 36.3 876.9" style="stroke-width:3.4;"/>
<path d="M36.3 876.9 L84.7 900" style="stroke-width:3.4;"/>
<path d="M84.7 900 C86 902.2 91.2 908.6 92 913.3 C92.8 917.9 93.6 920.5 89.6 927.8 C85.6 935.1 73.8 951.2 67.8 956.9 C61.7 962.5 57.1 961.5 53.3 961.7 C49.4 961.9 48 958.9 44.8 958.1 C41.6 957.3 36.7 957.5 33.9 956.9 C31.1 956.2 28.9 954.8 27.8 954.4"/>
<path d="M27.8 954.4 C24.4 951.2 11.5 940.3 7.3 935.1 C3 929.8 3 927.4 2.4 923 C1.8 918.5 3.4 910.8 3.6 908.4" style="stroke-width:3.4;"/>
<path d="M8.5 913.3 L12.1 904.8 L31.5 887.8 L50.8 897.5 L48.4 910.8 L33.9 931.4" style="stroke-width:3.4;"/>
<path d="M8.5 913.3 L33.9 931.4 L30.3 937.5 L7.3 920.5" style="stroke-width:3.4;"/>
<path d="M31.5 887.8 L30.3 884.2 L44.8 879.4"/>
<path d="M44.8 879.4 C46 880.6 50.6 883.2 52.1 886.6 C53.5 890.1 53.5 895.9 53.3 900 C53.1 904 51.3 909 50.8 910.8" style="stroke-width:3.6;"/>
<path d="M56.9 891.5 L82.3 901.2 L79.9 916.9 L53.3 903.6" style="stroke-width:3.4;"/>
<path d="M71.4 895.1 L78.7 898.7 L77.5 907.2" style="stroke-width:4.3;"/>
<path d="M36.3 909.6 L46 910.8 L43.6 923 L35.1 927.8" style="stroke-width:3.8;"/>
<path d="M37.5 914.5 L41.2 913.3 L40.6 918.1" style="stroke-width:3.8;"/>
<path d="M50.8 925.4 L65.4 931.4 L56.9 942.3 L46 935.1" style="stroke-width:3.8;"/>
<path d="M56.9 927.8 L53.3 936.3"/>
<path d="M33.9 931.4 C35.5 931 40.8 930.8 43.6 929 C46.4 927.2 48.8 923.6 50.8 920.5 C52.9 917.5 54.9 912.5 55.7 910.8" style="stroke-width:3.4;"/>
<path d="M12.1 923 L26.6 933.8 L24.2 942.3 L9.7 932.6" style="stroke-width:3.4;"/>
<path d="M18.2 938.7 L40 953.2 L33.9 956.9" style="stroke-width:3.8;"/>
<path d="M24.2 948.4 L31.5 955.6" style="stroke-width:4.8;"/>
<path d="M90.8 923 L125.9 943.5"/>
<path d="M125.9 943.5 C126.8 944.9 131.4 948.8 131.4 952 C131.4 955.2 128.4 960.3 125.9 962.9 C123.4 965.5 117.8 966.9 116.2 967.7"/>
<path d="M116.2 967.7 L81.1 944.7"/>
<path d="M113.8 966.5 L112.6 976.2"/>
<path d="M112.6 976.2 C111.2 977.4 106.7 982.3 104.1 983.5 C101.5 984.7 98.1 983.5 96.9 983.5"/>
<path d="M96.9 983.5 L65.4 961.7"/>
<path d="M102.9 937.5 C102.5 938.7 101.7 942.7 100.5 944.7 C99.3 946.8 96.4 948.8 95.6 949.6"/>
<path d="M87.2 954.4 C86.8 955.8 86.2 960.7 84.7 962.9 C83.3 965.1 79.7 966.9 78.7 967.7"/>
<path d="M90.8 930.2 L102.9 937.5"/>
<path d="M75.1 952 L87.2 954.4"/>
<!-- cable -->
<path d="M112.6 981 C112.9 984.2 115.3 988.5 114.5 1000 C113.7 1011.5 110.1 1034.2 107.5 1050 C104.9 1065.8 100.8 1082.5 98.8 1095 C96.7 1107.5 95.2 1115.8 95 1125 C94.8 1134.2 95.8 1141.4 97.4 1150 C99 1158.6 100.7 1166.7 104.6 1176.6 C108.5 1186.6 114.2 1198.2 121 1209.4 C127.8 1220.7 136 1232.7 145.6 1244.3 C155.2 1255.9 166.8 1267.2 178.4 1279.1 C190 1291.1 203.3 1303.7 215.3 1316 C227.3 1328.3 239.2 1340.6 250.1 1352.9 C261.1 1365.2 271.3 1377.5 280.9 1389.8 C290.5 1402.1 299.7 1414.8 307.5 1426.7 C315.4 1438.7 322.6 1451 328 1461.6 C333.5 1472.2 338 1482.1 340.3 1490.3 C342.7 1498.5 343.1 1502.6 342.4 1510.8 C341.7 1519 338.8 1531.3 336.2 1539.5 C333.7 1547.7 330.5 1552 327.2 1560 C323.9 1568 319.3 1578.2 316.3 1587.2 C313.3 1596.3 310.4 1605.4 309.1 1614.5 C307.7 1623.6 307.2 1633.2 308.1 1641.7 C309.1 1650.2 311.3 1657.8 314.5 1665.3 C317.7 1672.9 321.5 1679.9 327.2 1687.1 C333 1694.4 341.1 1702.3 349 1708.9 C356.9 1715.6 366.3 1721.3 374.4 1727.1 C382.6 1732.8 391.7 1738.3 398 1743.4 C404.4 1748.6 408.9 1753.1 412.6 1757.9 C416.2 1762.8 417.7 1768.2 419.8 1772.5 C421.9 1776.7 422.9 1780.6 425.3 1783.4 C427.7 1786.1 430.7 1788.1 434.4 1788.8 C438 1789.6 441 1789.1 447.1 1787.9 C453.1 1786.7 462.2 1783.4 470.7 1781.5 C479.2 1779.7 487.3 1777.6 497.9 1777 C508.5 1776.4 520.6 1777.3 534.2 1777.9 C547.9 1778.5 573 1780 580 1780.6 C587 1781.3 571.9 1781.6 576.3 1781.6 C580.8 1781.6 597.3 1781.6 606.6 1780.4 C615.9 1779.2 624.9 1776.6 632 1774.3 C639.1 1772.1 644.3 1769.3 649 1767.1 C653.6 1764.9 658 1762 659.9 1761"/>
<path d="M128.3 963 C129.7 965.2 134.8 969.8 136.5 976 C138.2 982.2 139.4 988.9 138.8 1000 C138.1 1011.1 135 1027.9 132.5 1042.5 C130 1057.1 126 1073.8 123.8 1087.5 C121.5 1101.2 119.2 1114.6 118.8 1125 C118.3 1135.4 119.3 1141.4 121 1150 C122.7 1158.6 125.1 1167.1 129.2 1176.6 C133.3 1186.2 138.4 1196.8 145.6 1207.4 C152.8 1218 162 1228.9 172.2 1240.2 C182.5 1251.5 195.1 1263.4 207.1 1275 C219.1 1286.7 232 1297.9 244 1309.9 C256 1321.9 267.9 1334.5 278.8 1346.8 C289.8 1359.1 300 1371.1 309.6 1383.7 C319.2 1396.3 328.7 1410.3 336.2 1422.6 C343.8 1434.9 349.9 1446.6 354.7 1457.5 C359.5 1468.4 363.1 1479.4 364.9 1488.2 C366.8 1497.1 366.7 1502.3 366 1510.8 C365.3 1519.3 363.1 1531.3 360.8 1539.5 C358.6 1547.7 356.1 1551.4 352.6 1560 C349.2 1568.6 343.4 1581.2 339.9 1590.9 C336.4 1600.6 333.3 1609.9 331.8 1618.1 C330.2 1626.3 330.1 1633.2 330.8 1639.9 C331.6 1646.6 333.3 1651.7 336.3 1658.1 C339.3 1664.4 343.3 1671.4 349 1678 C354.8 1684.7 362.6 1691.7 370.8 1698 C379 1704.4 389.9 1711 398 1716.2 C406.2 1721.3 414.1 1724.6 419.8 1728.9 C425.6 1733.1 429.4 1737.1 432.5 1741.6 C435.7 1746.1 437.4 1751.9 438.9 1756.1 C440.4 1760.4 441.2 1765.2 441.6 1767"/>
<path d="M441.6 1767 C445 1765.8 453.7 1761.6 461.6 1759.8 C469.5 1757.9 476.7 1756.7 488.8 1756.1 C500.9 1755.5 519 1755.8 534.2 1756.1 C549.4 1756.4 573 1757.6 580 1757.9 C587 1758.3 571.9 1758.1 576.3 1758 C580.8 1757.9 597.5 1758.3 606.6 1757.4 C615.7 1756.5 624.7 1754.6 630.8 1752.5 C636.9 1750.5 639.7 1747.1 642.9 1745.3 C646.1 1743.5 647.7 1741.8 650.2 1741.6 C652.6 1741.4 655.4 1742.3 657.4 1744.1 C659.5 1745.9 661.3 1749.9 662.3 1752.5 C663.3 1755.2 663.3 1758.6 663.5 1759.8"/>
<!-- hose + elbow -->
<path d="M691.5 1516.9 C683.1 1520.3 654.8 1529.4 640.7 1537.3 C626.6 1545.2 616.4 1554.2 606.8 1564.4 C597.2 1574.6 588.7 1585.9 583.1 1598.3 C577.4 1610.7 574.9 1632 572.9 1639 C570.9 1645.9 570.5 1635.6 570.9 1640 C571.2 1644.4 572.2 1656.9 575.1 1665.4 C578 1673.8 585.8 1684.5 588.4 1690.8 C591 1697.1 589.2 1699.1 590.8 1702.9 C592.5 1706.7 595.1 1710.6 598.1 1713.8 C601.1 1717 604.6 1719 609 1722.3 C613.4 1725.5 620.7 1731.1 624.7 1733.2 C628.8 1735.2 631.8 1734.4 633.2 1734.6"/>
<path d="M760 1530.5 C751.4 1533.9 725.5 1542.4 708.5 1550.8 C691.4 1559.3 671.2 1571.2 657.6 1581.4 C644.1 1591.5 634.4 1603.3 627.1 1611.9 C619.8 1620.4 616.4 1626.2 613.8 1632.7 C611.3 1639.2 612.2 1645.4 612 1650.8 C611.8 1656.3 612.5 1663 612.6 1665.4"/>
<path d="M612.6 1666 C610.6 1667.1 604 1669.7 600.5 1672.6 C597.1 1675.6 594 1680.1 592.1 1683.5 C590.1 1687 589.5 1691.6 589 1693.2"/>
<path d="M612.6 1666 C612.4 1667.3 610.6 1671.1 611.4 1673.8 C612.2 1676.6 614.9 1680.1 617.5 1682.3 C620.1 1684.5 625.6 1686.4 627.2 1687.2"/>
<path d="M613.2 1653.3 C614.2 1652.4 616 1648.9 618.7 1647.8 C621.4 1646.7 625.8 1645.9 629.6 1646.6 C633.4 1647.3 638.5 1649.7 641.7 1652.1 C644.9 1654.4 647.3 1658.3 649 1660.5 C650.6 1662.8 651 1664.6 651.4 1665.4"/>
<path d="M651.4 1665.4 C651 1666.6 649.8 1670.4 649 1672.6 C648.2 1674.9 646.3 1676.7 646.5 1678.7 C646.7 1680.7 648.4 1682.5 650.2 1684.7 C652 1687 655.6 1689.6 657.4 1692 C659.2 1694.4 660.5 1698.1 661.1 1699.3"/>
<path d="M613.8 1655.7 C615.3 1656.7 620.1 1659.9 622.3 1661.7 C624.5 1663.6 624.7 1665.7 627.2 1666.6 C629.6 1667.5 633.2 1667.8 636.9 1667.2 C640.5 1666.6 646.9 1663.7 649 1663"/>
<path d="M629.6 1671.4 L646.5 1670.2"/>
<path d="M635.6 1675.1 L644.1 1675.1 L645.3 1683.5 L636.9 1684.7Z" style="stroke-width:3.8;"/>
<path d="M609.6 1718.6 C609.9 1716.6 610.1 1710.2 611.4 1706.5 C612.7 1702.9 614.9 1699.5 617.5 1696.9 C620.1 1694.2 622.9 1692 627.2 1690.8 C631.4 1689.6 638.1 1689.2 642.9 1689.6 C647.7 1690 653.2 1691.4 656.2 1693.2 C659.2 1695 660.3 1699.3 661.1 1700.5"/>
<path d="M615.1 1719.9 C615.3 1718 615.1 1712.4 616.3 1709 C617.5 1705.5 619.7 1701.9 622.3 1699.3 C624.9 1696.7 628.4 1694.4 632 1693.2 C635.6 1692 642.1 1692.2 644.1 1692"/>
<path d="M639.3 1736.8 C638.7 1736.4 638.1 1736.6 635.6 1734.4 C633.2 1732.2 627.6 1726.7 624.7 1723.5 C621.9 1720.3 619.1 1718.4 618.7 1715 C618.3 1711.6 620.1 1706.1 622.3 1702.9 C624.5 1699.7 628.4 1697.1 632 1695.6 C635.6 1694.2 640.5 1693.6 644.1 1694.4 C647.7 1695.2 649 1696.7 653.8 1700.5 C658.6 1704.3 668.5 1712.8 673.2 1717.4 C677.8 1722.1 679.8 1724.7 681.6 1728.3 C683.5 1732 684.1 1735.2 684.1 1739.2 C684.1 1743.3 683.1 1748.9 681.6 1752.5 C680.2 1756.2 676.6 1759.6 675.6 1761"/>
<path d="M609.6 1718.6 C610.9 1720.1 613.7 1724.4 617.5 1727.1 C621.2 1729.8 629.6 1733.7 632 1735"/>
<path d="M639.3 1746.5 C639.5 1744.9 639.3 1739.3 640.5 1736.8 C641.7 1734.3 643.9 1732 646.5 1731.4 C649.2 1730.8 653 1731.7 656.2 1733.2 C659.5 1734.7 663.3 1737.4 665.9 1740.4 C668.5 1743.5 670.8 1747.7 672 1751.3 C673.2 1755 673.8 1759.4 673.2 1762.2 C672.6 1765.1 670.5 1767.2 668.3 1768.3 C666.1 1769.4 662.1 1769.3 659.9 1768.9 C657.6 1768.5 655.8 1766.4 655 1765.9"/>
<path d="M642.9 1745.3 C643.9 1744.3 646.7 1740.2 649 1739.2 C651.2 1738.2 653.6 1738 656.2 1739.2 C658.8 1740.4 662.5 1743.5 664.7 1746.5 C666.9 1749.5 669.1 1754.2 669.5 1757.4 C669.9 1760.6 668.5 1764.1 667.1 1765.9 C665.7 1767.6 662.1 1767.4 661.1 1767.7"/>
<!-- shift arm clamp -->
<path d="M729.7 1459 L752.4 1435.6 L761.5 1439.3 L794 1460.5 L797.8 1466.6 L773.6 1477.2 L776.6 1505.9 L781.1 1522.6"/>
<path d="M729.7 1459 L732.7 1489.3 L740.3 1501.4 L772 1521.1 L781.1 1522.6"/>
<path d="M732.7 1457.5 L768.3 1475.7"/>
<path d="M768.3 1475.7 L773.6 1477.2"/>
<path d="M744 1481.7 C744.2 1480.7 743.7 1476.9 744.8 1475.7 C745.9 1474.4 748.6 1473.6 750.9 1474.2 C753.1 1474.7 756.2 1476.2 758.4 1478.7 C760.7 1481.2 763.7 1486.3 764.5 1489.3 C765.2 1492.3 764.5 1495.8 763 1496.9 C761.5 1497.9 756.7 1495.6 755.4 1495.3"/>
<path d="M710 1499.9 C713.8 1498.9 726.4 1495.8 732.7 1493.8 C739 1491.8 744 1489.8 747.8 1487.8 C751.6 1485.8 754.1 1482.7 755.4 1481.7"/>
<path d="M710 1519.6 C713 1517.8 722.1 1513 728.2 1509 C734.2 1504.9 741.5 1499.4 746.3 1495.3 C751.1 1491.3 755.1 1486.5 756.9 1484.7"/>
<path d="M761.5 1439.3 L760.7 1428.8 L779.6 1412.9 L828 1440.1 L834.8 1468.1 L833.3 1482.5 L826.5 1484.7"/>
<path d="M762.2 1432.5 L803.1 1454.5 L828 1440.1"/>
<path d="M803.1 1454.5 L806.9 1474.2"/>
<path d="M794 1460.5 L800.8 1464.3 L802.3 1472.6"/>
<ellipse cx="808.4" cy="1497.6" rx="14.5" ry="22.5" transform="rotate(27 808.4 1497.6)" style="fill:#4a4a4a;"/>
<path d="M826.5 1484.7 C828.5 1485.3 835.9 1486.3 838.6 1487.8 C841.4 1489.3 842.9 1490.3 843.2 1493.8 C843.4 1497.4 842.2 1504.2 840.1 1509 C838.1 1513.8 834.6 1519.2 831.1 1522.6 C827.5 1526 822.7 1528.4 819 1529.4 C815.2 1530.4 811.4 1528.3 808.4 1528.6 C805.3 1529 802.3 1529.6 800.8 1531.7 C799.3 1533.7 799 1535.9 799.3 1540.7 C799.5 1545.5 801.8 1557.1 802.3 1560.4"/>
<path d="M782.6 1519.6 C783.6 1519 785.9 1516 788.7 1516.5 C791.5 1517 797.5 1521.6 799.3 1522.6"/>
<path d="M781.1 1522.6 C781.6 1524.8 782.9 1531.4 784.2 1536.2 C785.4 1541 787.9 1548.8 788.7 1551.3"/>
<path d="M835.6 1478.7 C838.9 1480 850.2 1484.5 855.3 1486.3 C860.3 1488 863.6 1487.5 865.9 1489.3 C868.1 1491.1 868.4 1495.6 868.9 1496.9"/>
<path d="M868.9 1496.9 L906.7 1521.1" style="stroke-width:3.8;"/>
<path d="M835.6 1482.5 C838.4 1483.9 848 1488.2 852.3 1490.8 C856.5 1493.4 859.8 1497.1 861.3 1498.4"/>
<path d="M861.3 1498.4 L905.2 1525.6" style="stroke-width:3.8;"/>
<path d="M850.7 1496.9 C851.2 1499.9 852 1509 853.8 1515 C855.5 1521.1 857.5 1527.9 861.3 1533.2 C865.1 1538.5 870.7 1543 876.5 1546.8 C882.3 1550.6 892.9 1554.4 896.1 1555.9"/>
<path d="M906.7 1522.6 C906 1524.8 903.7 1530.4 902.2 1536.2 C900.7 1542 898.4 1553.9 897.7 1557.4"/>
<path d="M819 1566.5 L853 1540"/>
<path d="M747.8 1543 C749.9 1542.9 755.4 1541.1 759.9 1542.3 C764.5 1543.4 772.6 1548.6 775.1 1549.8"/>
<path d="M775.1 1549.8 L853.8 1595.2"/>
<path d="M853.8 1595.2 C854.8 1595.5 857.8 1597 859.8 1596.7 C861.8 1596.5 864.9 1594.2 865.9 1593.7"/>
<path d="M865.9 1593.7 L911.3 1557.4"/>
<path d="M773.6 1552.8 L852.3 1598.2"/>
<path d="M852.3 1598.2 C853.8 1598.5 858.8 1600 861.3 1599.8 C863.9 1599.5 866.4 1597.2 867.4 1596.7"/>
<path d="M867.4 1596.7 L912.8 1560.4"/>
<path d="M858.3 1589.2 L894.6 1561.9" style="stroke-width:4.8;"/>
<path d="M747.8 1543 C745.8 1544.1 738.5 1546.9 735.7 1549.8 C733 1552.7 731.7 1556.4 731.2 1560.4 C730.7 1564.4 731.2 1570.5 732.7 1574 C734.2 1577.6 739 1580.3 740.3 1581.6"/>
<path d="M740.3 1581.6 L785.7 1607.3"/>
<path d="M785.7 1607.3 C786.2 1605.8 787.2 1600.4 788.7 1598.2 C790.2 1596.1 792.2 1594.7 794.7 1594.5 C797.3 1594.2 801.8 1595.3 803.8 1596.7 C805.8 1598.1 804.8 1600.5 806.9 1602.8 C808.9 1605.1 814.4 1609.1 815.9 1610.4"/>
<path d="M815.9 1610.4 C816.9 1609.8 820 1607.1 822 1607.3 C824 1607.6 826.5 1609.7 828 1611.9 C829.6 1614 830.6 1618.7 831.1 1620"/>
<path d="M791.7 1598.2 L796.3 1602.8 L802.3 1598.2"/>
<path d="M908.2 1525.6 C909 1524.1 910 1519.2 912.8 1516.5 C915.6 1513.9 920.4 1510.9 924.9 1509.7 C929.4 1508.6 935.7 1508.1 940 1509.7 C944.3 1511.4 948.1 1515.1 950.6 1519.6 C953.1 1524 953.9 1529.6 955.2 1536.2 C956.4 1542.8 957.7 1555.1 958.2 1558.9"/>
<path d="M917.3 1536.2 C918.1 1534.9 919.3 1530.4 921.9 1528.6 C924.4 1526.9 929.2 1525.1 932.5 1525.6 C935.7 1526.1 940 1530.6 941.5 1531.7"/>
<path d="M914.3 1560.4 L921.9 1596.7 L921.9 1608.8"/>
<!-- ball joint -->
<path d="M889.9 1633.2 C893 1629.1 897.8 1621.6 903.6 1618 C909.4 1614.5 916.7 1612.9 924.7 1612 C932.8 1611.1 944.7 1610.5 952 1612.7 C959.3 1615 964.1 1620.4 968.6 1625.6 C973.2 1630.8 977.2 1638.2 979.2 1643.8 C981.2 1649.3 981.7 1653.1 980.7 1658.9 C979.7 1664.7 977.5 1672.8 973.2 1678.6 C968.9 1684.4 962.1 1690.4 955 1693.7 C947.9 1697 938.1 1698.5 930.8 1698.2 C923.5 1698 917.2 1695.7 911.1 1692.2 C905.1 1688.7 899 1682.6 894.5 1677.1 C889.9 1671.5 885.4 1664.7 883.9 1658.9 C882.4 1653.1 884.4 1646.5 885.4 1642.3 C886.4 1638 886.9 1637.2 889.9 1633.2Z"/>
<path d="M912.6 1612 C910.1 1613.8 901.8 1618 897.5 1622.6 C893.2 1627.1 889.3 1633.4 886.9 1639.2 C884.5 1645 883.4 1651.8 883.1 1657.4 C882.9 1662.9 884 1669 885.4 1672.5 C886.8 1676 890.4 1677.6 891.5 1678.6" style="stroke-width:3.6;"/>
<path d="M918.7 1612.7 C916.2 1614.9 907.7 1620.7 903.6 1625.6 C899.4 1630.5 895.9 1636.7 893.7 1642.3 C891.6 1647.8 890.9 1654.1 890.7 1658.9 C890.4 1663.7 891.3 1667.5 892.2 1671 C893.1 1674.5 895.4 1678.6 896 1680.1"/>
<ellipse cx="963.3" cy="1668.7" rx="13" ry="23.5" transform="rotate(35 963.3 1668.7)"/>
<path d="M952 1678.6 C952.2 1675.8 953 1669.7 955 1666.5 C957 1663.2 961.6 1659.9 964.1 1658.9 C966.6 1657.9 969.4 1658.6 970.1 1660.4 C970.9 1662.2 970.1 1666.2 968.6 1669.5 C967.1 1672.8 963.6 1677.8 961.1 1680.1 C958.5 1682.4 955 1683.4 953.5 1683.1 C952 1682.9 951.7 1681.3 952 1678.6Z"/>
<path d="M962.6 1602.9 C963.6 1602.4 966.4 1599.6 968.6 1599.9 C970.9 1600.1 973.4 1601.9 976.2 1604.4 C979 1606.9 982.8 1611 985.3 1615 C987.8 1619 990.6 1625.4 991.3 1628.6 C992.1 1631.9 991.1 1633.9 989.8 1634.7 C988.6 1635.4 984.8 1633.4 983.8 1633.2"/>
<path d="M973.2 1598.4 C974.4 1599.6 978.2 1602.4 980.7 1605.9 C983.3 1609.5 987 1617.3 988.3 1619.6"/>
<path d="M962.6 1602.9 C962.3 1603.9 960.1 1606.2 961.1 1609 C962.1 1611.7 967.4 1617.8 968.6 1619.6"/>
<path d="M977 1590.8 L980.7 1586.3 L994.4 1583.2 L1008 1590.8 L1011 1596.9 L1014 1615 L1006.5 1619.6 L1003.4 1605.9 L991.3 1596.9 L980.7 1593.8Z" style="stroke-width:3.4;"/>
<path d="M1008 1589.3 L1014 1584.7 L1021.6 1593.8 L1024.6 1605.9 L1006.5 1619.6"/>
<path d="M991.3 1596.9 L994.4 1583.2"/>
<path d="M983.8 1596.9 L991.3 1615 L1000.4 1619.6"/>
<path d="M982.3 1584.7 C990.8 1577.7 1021.1 1551.5 1033.7 1542.4 C1046.3 1533.3 1053.1 1532 1057.9 1530.3 C1062.7 1528.5 1062.5 1529.5 1062.5 1531.8 C1062.5 1534 1058.7 1541.9 1057.9 1543.9"/>
<path d="M1011 1582.5 L1059.4 1545.4"/>
<path d="M1021.6 1596.9 L1070 1562 L1059.4 1545.4"/>
<path d="M1006.5 1619.6 C1015.5 1612.7 1048.3 1589 1060.9 1578.7 C1073.6 1568.4 1077.3 1562.3 1082.1 1557.5 C1087 1552.7 1088.7 1551.2 1090 1549.9"/>
<path d="M991.3 1572.6 C998.9 1566.6 1020.3 1547.2 1036.7 1536.3 C1053.2 1525.5 1081.1 1512.4 1090 1507.6"/>
<path d="M897.5 1553 C898 1550.7 898.8 1544.4 900.5 1539.3 C902.3 1534.3 904.6 1527.2 908.1 1522.7 C911.6 1518.2 916.9 1514.4 921.7 1512.1 C926.5 1509.8 932.3 1508.6 936.9 1509.1 C941.4 1509.6 945.9 1511.6 949 1515.1 C952 1518.7 953.2 1522.7 955 1530.3 C956.8 1537.8 958.8 1555.5 959.6 1560.5"/>
<path d="M911.1 1554.5 C911.6 1552.2 912.4 1544.9 914.2 1540.9 C915.9 1536.8 918.7 1532.8 921.7 1530.3 C924.7 1527.7 929.5 1523.2 932.3 1525.7 C935.1 1528.2 937.4 1542.1 938.4 1545.4"/>
<path d="M938.4 1545.4 L921.7 1534.8"/>
<path d="M915.7 1560.5 C916.2 1564.6 917.7 1577.2 918.7 1584.7 C919.7 1592.3 920.7 1601.1 921.7 1605.9 C922.7 1610.7 924.2 1612.2 924.7 1613.5"/>
<path d="M921.7 1534.8 C925.3 1537.3 936.6 1545.4 942.9 1549.9 C949.2 1554.5 952.7 1557.8 959.6 1562 C966.4 1566.3 979.7 1573.4 983.8 1575.7"/>
<path d="M920.2 1584.7 C923 1586.5 931.1 1591.8 936.9 1595.3 C942.7 1598.9 950.7 1604.4 955 1605.9 C959.3 1607.4 961.3 1604.7 962.6 1604.4"/>
<path d="M852.1 1504.5 C852.9 1507.6 853.6 1517.2 856.6 1522.7 C859.7 1528.2 863.7 1532.3 870.3 1537.8 C876.8 1543.4 891.7 1553 896 1556"/>
<path d="M911.1 1554.5 L915.7 1560.5"/>
<path d="M858.2 1602.9 L864.2 1627.1"/>
<path d="M840 1633.2 L849.1 1637.7 L868.8 1634.7 L877.8 1628.6 L882.4 1631.7 L883.9 1645.3 L880.9 1657.4 L867.2 1649.8 L859.7 1642.3 L852.1 1639.2"/>
<path d="M878.6 1628.6 L883.9 1631.7 L883.9 1645.3 L880.1 1645.3Z" style="fill:#333;"/>
<!-- linkage rod -->
<path d="M1071.9 1517.8 C1074.9 1516.5 1084.2 1513.8 1089.8 1509.8 C1095.5 1505.8 1100.8 1499.9 1105.8 1493.9 C1110.8 1487.9 1115.1 1480.5 1119.8 1473.9 C1124.5 1467.2 1131.5 1457.2 1133.8 1453.9"/>
<path d="M1067.9 1569.8 C1071.2 1565.8 1082.5 1553.5 1087.8 1545.8 C1093.2 1538.1 1094.5 1529.8 1099.8 1523.8 C1105.2 1517.8 1107.2 1516.2 1119.8 1509.8 C1132.5 1503.5 1166.4 1489.9 1175.7 1485.9"/>
<path d="M994 1622.7 C998.3 1623.5 1011.6 1628.2 1019.9 1627.7 C1028.3 1627.2 1035.2 1624.4 1043.9 1619.7 C1052.6 1615 1059.2 1610.4 1071.9 1599.7 C1084.5 1589.1 1102.5 1570.4 1119.8 1555.8 C1137.1 1541.1 1165.1 1518.5 1175.7 1511.8 C1186.4 1505.2 1182.4 1515.2 1183.7 1515.8"/>
<path d="M1137.5 1434.8 C1142.8 1430.7 1162.8 1414 1169 1410 C1175.3 1405.9 1172.4 1409.7 1175.1 1410.6 C1177.7 1411.5 1183.1 1414.6 1184.7 1415.4"/>
<path d="M1184.7 1415.4 L1216.2 1444.5"/>
<path d="M1216.2 1444.5 C1217 1447.5 1220.5 1457.2 1221.1 1462.6 C1221.7 1468.1 1221.3 1472.7 1219.9 1477.2 C1218.4 1481.6 1213.8 1487.3 1212.6 1489.3"/>
<path d="M1212.6 1489.3 L1187.2 1513.5 L1183.5 1515.3 L1173.8 1513.5"/>
<path d="M1137.5 1434.8 C1139.3 1434.6 1144.2 1432.6 1148.4 1433.6 C1152.7 1434.6 1158.1 1436.8 1163 1440.8 C1167.8 1444.9 1173.4 1452.1 1177.5 1457.8 C1181.5 1463.4 1185.1 1469.3 1187.2 1474.7 C1189.2 1480.2 1189.2 1485.4 1189.6 1490.5 C1190 1495.5 1190 1501.2 1189.6 1505 C1189.2 1508.8 1187.6 1512.1 1187.2 1513.5"/>
<path d="M1142.4 1440.8 C1144.6 1441 1151.3 1440 1155.7 1442.1 C1160.1 1444.1 1165 1448.7 1169 1453 C1173 1457.2 1177.3 1462.6 1179.9 1467.5 C1182.5 1472.3 1183.9 1475.6 1184.7 1482 C1185.6 1488.5 1186 1501.4 1184.7 1506.2 C1183.5 1511.1 1178.7 1510.3 1177.5 1511.1"/>
<path d="M1137.5 1434.8 C1137.2 1436.2 1134.9 1442.3 1135.7 1443.3 C1136.5 1444.3 1141.3 1441.3 1142.4 1440.8"/>
<path d="M1184.7 1443.3 C1185.6 1442.7 1187.6 1439.6 1189.6 1439.6 C1191.6 1439.6 1194.6 1441 1196.9 1443.3 C1199.1 1445.5 1201.7 1449.9 1202.9 1453 C1204.1 1456 1203.9 1460 1204.1 1461.4"/>
<path d="M1184.7 1443.3 C1186 1444.9 1190 1449.7 1192 1453 C1194 1456.2 1196 1461 1196.9 1462.6"/>
<ellipse cx="1209.6" cy="1475.4" rx="8.5" ry="12" transform="rotate(25 1209.6 1475.4)"/>
<path d="M1202.9 1462.6 C1201.9 1464.3 1197.7 1468.7 1196.9 1472.3 C1196 1476 1197.1 1481.4 1198.1 1484.4 C1199.1 1487.5 1202.1 1489.5 1202.9 1490.5"/>
<path d="M1189.6 1490.5 C1190.8 1490.7 1193 1491.9 1196.9 1491.7 C1200.7 1491.5 1210 1489.7 1212.6 1489.3"/>
<path d="M1142.4 1446.9 C1140.8 1449.5 1133.7 1459.2 1132.7 1462.6 C1131.7 1466.1 1132.5 1467.7 1136.3 1467.5 C1140.2 1467.3 1150.4 1464.3 1155.7 1461.4 C1160.9 1458.6 1165.8 1452.3 1167.8 1450.5"/>
<path d="M1155.7 1461.4 C1156.9 1463.6 1161.3 1471.1 1163 1474.7 C1164.6 1478.4 1165 1481.8 1165.4 1483.2"/>
<path d="M1184.7 1414.2 L1190.8 1405.7 L1199.3 1403.9 L1206.5 1409.4 L1216.2 1426.3 L1221.1 1431.2 L1216.2 1443.3"/>
<path d="M1199.3 1403.9 L1209 1420.3 L1216.2 1426.3"/>
<path d="M1190.8 1405.7 L1200.5 1422.7 L1209 1431.2"/>
<path d="M1206.5 1409.4 C1208.2 1407.4 1212.6 1400.5 1216.2 1397.3 C1219.9 1394 1226.3 1391.2 1228.3 1390"/>
<path d="M1221.1 1431.2 L1236.8 1417.8"/>
<path d="M1216.2 1397.3 C1217.8 1398.5 1222.5 1401.1 1225.9 1404.5 C1229.3 1408 1235 1415.6 1236.8 1417.8"/>
<path d="M1225.9 1392.4 C1227.5 1393.6 1232.8 1396.7 1235.6 1399.7 C1238.4 1402.7 1241.6 1408.8 1242.9 1410.6" style="stroke-width:4.5;"/>
<path d="M1240.4 1390 C1242.1 1391.2 1247.7 1394.4 1250.1 1397.3 C1252.5 1400.1 1254.2 1405.3 1255 1406.9" style="stroke-width:4.5;"/>
<path d="M1221.1 1477.2 L1262.2 1461.4"/>
<path d="M1225.9 1430 L1267.1 1413"/>
<!-- pedal arm top boss -->
<path d="M1524.5 1039.9 C1524.7 1035.7 1523.9 1022.3 1525.4 1014.5 C1526.9 1006.6 1529.5 999.3 1533.6 992.7 C1537.7 986 1543.9 978.8 1549.9 974.5 C1556 970.3 1564.8 968.2 1569.9 967.3 C1575.1 966.4 1579 968.8 1580.8 969.1"/>
<path d="M1580.8 969.1 L1635.3 998.1"/>
<path d="M1635.3 998.1 C1636.2 1000.3 1640.1 1003.6 1640.7 1010.8 C1641.3 1018.1 1638.9 1029 1638.9 1041.7 C1638.9 1054.4 1640.1 1074.4 1640.7 1087.1 C1641.3 1099.8 1642.3 1112.8 1642.6 1118"/>
<ellipse cx="1603.6" cy="1040.4" rx="29" ry="48.5" transform="rotate(30 1603.6 1040.4)"/>
<ellipse cx="1608.2" cy="1039.4" rx="22" ry="35.8" transform="rotate(30 1608.2 1039.4)"/>
<path d="M1568.5 1057 C1568.7 1058.6 1568.5 1063.3 1569.5 1066.5 C1570.5 1069.7 1573.5 1074.6 1574.3 1076.2" style="stroke-width:4;"/>
<path d="M1520.9 1052.6 C1523 1050.5 1528.9 1044.6 1533.6 1039.9 C1538.3 1035.2 1543.3 1025.4 1549 1024.5 C1554.8 1023.6 1567 1030.7 1568.1 1034.5 C1569.2 1038.2 1559.9 1042.3 1555.4 1047.2 C1550.8 1052 1543.3 1060.8 1540.9 1063.5"/>
<path d="M1540.9 1076.2 L1557.2 1112.5"/>
<path d="M1571.3 1109.5 C1569.3 1112.2 1563.1 1119.8 1559.5 1125.6 C1555.8 1131.4 1552.3 1138.6 1549.3 1144.2 C1546.3 1149.9 1542.4 1155.8 1541.7 1159.5 C1540.9 1163.2 1544.1 1165.1 1544.6 1166.3" style="stroke-width:6;"/>
<path d="M1564.5 1113.7 C1565.7 1112.7 1568.9 1109.1 1571.3 1107.8 C1573.7 1106.5 1576.7 1105.8 1578.9 1106.1 C1581.2 1106.4 1583.2 1107.5 1584.9 1109.5 C1586.6 1111.5 1587.7 1114.4 1589.1 1118 C1590.5 1121.5 1591.8 1126.2 1593.4 1130.7 C1594.9 1135.2 1597 1141 1598.4 1145.1 C1599.9 1149.2 1601.3 1153.6 1601.8 1155.3"/>
<path d="M1549.3 1152.7 C1551 1152.4 1555.1 1150.9 1559.5 1151 C1563.8 1151.2 1570.1 1152.7 1575.6 1153.6 C1581.1 1154.4 1587.6 1155.3 1592.5 1156.1 C1597.5 1156.9 1601 1158.4 1605.2 1158.6 C1609.5 1158.9 1615.8 1157.9 1617.9 1157.8"/>
<path d="M1571.3 1109.5 C1570.8 1111.9 1568.5 1119.2 1567.9 1123.9 C1567.4 1128.6 1567.4 1133.5 1567.9 1137.5 C1568.5 1141.4 1569.9 1144.9 1571.3 1147.6 C1572.7 1150.3 1575.6 1152.6 1576.4 1153.6"/>
<path d="M1564.5 1115.4 C1563.8 1117.8 1561 1125.6 1560.3 1129.8 C1559.6 1134.1 1559.7 1137.6 1560.3 1140.8 C1560.9 1144.1 1562.4 1147.3 1563.7 1149.3 C1565 1151.3 1567.2 1152.1 1567.9 1152.7"/>
<path d="M1575.6 1115.4 C1576.1 1117.5 1577.5 1123.6 1578.9 1128.1 C1580.4 1132.7 1582.1 1138.7 1584 1142.5 C1586 1146.4 1588.7 1148.9 1590.8 1151 C1592.9 1153.1 1595.8 1154.5 1596.7 1155.3"/>
<path d="M1621.3 1154.4 C1619.2 1153.3 1611.2 1149.6 1608.6 1147.6 C1606.1 1145.6 1606.4 1145.4 1606.1 1142.5 C1605.8 1139.7 1605.9 1134.4 1606.9 1130.7 C1607.9 1127 1609.9 1123.2 1612 1120.5 C1614.1 1117.8 1616.9 1115.7 1619.6 1114.6 C1622.3 1113.4 1624.6 1112.6 1628.1 1113.7 C1631.6 1114.9 1638.7 1120.1 1640.8 1121.4"/>
<ellipse cx="1635.3" cy="1140.8" rx="11.5" ry="19.5" transform="rotate(32 1635.3 1140.8)"/>
<ellipse cx="1637" cy="1140.8" rx="6.5" ry="13" transform="rotate(32 1637 1140.8)"/>
<ellipse cx="1637.4" cy="1140.8" rx="4" ry="8.5" transform="rotate(32 1637.4 1140.8)"/>
<path d="M1617.9 1157.8 C1619.1 1158 1622.6 1158.8 1624.7 1159.1 C1626.8 1159.4 1629.7 1159.4 1630.6 1159.5"/>
<!-- pedal arm main -->
<path d="M1520.9 1052.6 C1519.4 1055 1517.1 1055.9 1511.8 1067.1 C1506.5 1078.3 1496 1104.1 1489 1120 C1482 1135.9 1474.9 1150.6 1469.6 1162.3 C1464.3 1174 1461.5 1181.2 1457.2 1190 C1453 1198.8 1448.6 1206.2 1444.1 1215.2 C1439.6 1224.2 1434.7 1234.7 1430.1 1244.2 C1425.5 1253.7 1420.7 1263.2 1416.5 1272.3 C1412.3 1281.3 1409.9 1290.6 1404.9 1298.5 C1399.9 1306.4 1392.7 1311.7 1386.5 1319.8 C1380.3 1327.9 1373.5 1340 1367.8 1347.2 C1362 1354.4 1357.5 1358 1352 1363 C1346.5 1368 1341.1 1372.5 1335.1 1377.5 C1329 1382.5 1321.5 1386.8 1315.7 1393.2 C1309.9 1399.6 1306.5 1408.5 1300.5 1415.7 C1294.5 1422.9 1285.7 1430.5 1280 1436.3 C1274.3 1442.1 1268.8 1448.4 1266.6 1450.8"/>
<path d="M1540.9 1063.5 C1539.4 1065.9 1536.6 1068.6 1531.8 1078 C1527 1087.4 1518.3 1106 1512 1120 C1505.7 1134 1499.1 1150.6 1493.8 1162.3 C1488.5 1174 1485.1 1180 1480.4 1190 C1475.8 1200 1471.6 1209.9 1465.9 1222 C1460.2 1234.1 1453 1249.8 1446.5 1262.6 C1440 1275.3 1434 1287.2 1427.2 1298.5 C1420.4 1309.8 1412.6 1321.3 1405.9 1330.4 C1399.2 1339.5 1393.2 1346.5 1387.2 1353.3 C1381.2 1360.1 1376.1 1365 1370.2 1371.4 C1364.3 1377.9 1358 1385.3 1352 1392 C1346 1398.7 1340.1 1404.9 1333.9 1411.4 C1327.7 1417.9 1318.2 1427.7 1315 1430.9"/>
<path d="M1540.4 1160.3 C1537.9 1164.3 1529.8 1176.9 1525.3 1184.5 C1520.8 1192.1 1517.5 1197.6 1513.2 1205.7 C1508.9 1213.8 1504.1 1223.8 1499.6 1232.9 C1495 1242 1490.5 1250.8 1485.9 1260.1 C1481.4 1269.4 1476.8 1279.6 1472.3 1288.9 C1467.8 1298.2 1463 1308.8 1458.7 1316.1 C1454.4 1323.4 1450.2 1327.4 1446.6 1332.8 C1442.9 1338.2 1440.2 1343.6 1436.8 1348.4 C1433.3 1353.2 1429.7 1357.3 1425.9 1361.7 C1422.1 1366.1 1418 1370.3 1413.8 1375 C1409.6 1379.7 1404.5 1384.9 1400.5 1389.6 C1396.5 1394.2 1394.2 1398.1 1389.6 1402.9 C1384.9 1407.7 1378.2 1413.3 1372.6 1418.6 C1366.9 1423.8 1360.7 1429.8 1355.7 1434.4 C1350.7 1439.1 1344.6 1444.5 1342.4 1446.5"/>
<path d="M1525.3 1184.5 C1525.7 1188 1526.8 1197.6 1527.5 1205.7 C1528.2 1213.8 1529.2 1224.1 1529.8 1232.9 C1530.4 1241.7 1532 1251.5 1531.3 1258.6 C1530.5 1265.7 1529.6 1270.2 1525.3 1275.3 C1521 1280.3 1513.4 1283.4 1505.6 1288.9 C1497.8 1294.5 1487.5 1302 1478.4 1308.6 C1469.3 1315.1 1455.6 1324.9 1451.1 1328.2"/>
<path d="M1542.7 1160.3 C1543 1165.3 1543.3 1180.4 1544.2 1190.5 C1545.1 1200.6 1546.7 1210.7 1548 1220.8 C1549.3 1230.9 1551.5 1242.3 1551.8 1251.1 C1552 1259.9 1551.7 1267.2 1549.5 1273.8 C1547.3 1280.3 1544.5 1285.1 1538.9 1290.4 C1533.4 1295.7 1525 1299.7 1516.2 1305.5 C1507.4 1311.3 1496 1318.1 1485.9 1325.2 C1475.8 1332.3 1464.5 1340.8 1455.7 1347.9 C1446.9 1355 1439.8 1362.1 1433.2 1367.8 C1426.6 1373.5 1422.2 1376.2 1416.2 1382.3 C1410.2 1388.3 1400.1 1400.5 1396.9 1404.1"/>
<path d="M1389.6 1402.9 L1421 1377.5"/>
<path d="M1396.9 1405.3 L1389.6 1402.9"/>
<path d="M1540.4 1160.3 C1542.2 1156.7 1548 1144.1 1551 1139.1 C1554 1134 1557.3 1131.5 1558.6 1130" style="stroke-width:5;"/>
<path d="M1451.1 1328.2 L1478.4 1308.6" style="stroke-width:4.5;"/>
<path d="M1495 1239 C1495.8 1235.7 1499.3 1229.4 1501.1 1228.4 C1502.8 1227.4 1503.8 1228.6 1505.6 1232.9 C1507.4 1237.2 1510.4 1248 1511.7 1254.1 C1512.9 1260.1 1513.7 1264.7 1513.2 1269.2 C1512.7 1273.8 1510.1 1278.3 1508.6 1281.3 C1507.1 1284.4 1505.6 1289.9 1504.1 1287.4 C1502.6 1284.9 1500.8 1272.8 1499.6 1266.2 C1498.3 1259.6 1497.3 1252.6 1496.5 1248 C1495.8 1243.5 1494.3 1242.2 1495 1239Z"/>
<ellipse cx="1499.9" cy="1248" rx="2.5" ry="4"/>
<ellipse cx="1504.4" cy="1263.2" rx="2.5" ry="4"/>
<ellipse cx="1507.4" cy="1275.3" rx="2.5" ry="4"/>
<path d="M1364.2 1248.1 C1364.1 1245.2 1362.4 1235.5 1363.2 1230.7 C1364.1 1225.8 1366.2 1222.4 1369.1 1219.1 C1372 1215.7 1377.1 1212.1 1380.7 1210.3 C1384.2 1208.6 1388.7 1208.7 1390.4 1208.4"/>
<path d="M1390.4 1208.4 L1411.7 1190"/>
<path d="M1402 1214.2 L1433 1190"/>
<path d="M1390.4 1208.4 L1402 1214.2 L1420.4 1226.8"/>
<path d="M1420.4 1226.8 C1423.1 1224.9 1432 1218.6 1436.9 1215.2 C1441.7 1211.8 1447.3 1207.9 1449.4 1206.5"/>
<path d="M1449.4 1206.5 L1444.1 1215.2"/>
<path d="M1443.6 1216.2 C1440.6 1222.3 1429.6 1244.2 1425.2 1253 C1420.9 1261.7 1418.8 1265.9 1417.5 1268.5"/>
<ellipse cx="1418.5" cy="1241.3" rx="9.5" ry="11" transform="rotate(25 1418.5 1241.3)" style="stroke-width:3.6;"/>
<ellipse cx="1418.9" cy="1241.8" rx="4.5" ry="6" transform="rotate(25 1418.9 1241.8)"/>
<path d="M1373.9 1218.1 C1374.2 1218.9 1375.7 1221.2 1375.8 1222.9 C1376 1224.7 1375 1227.8 1374.9 1228.7"/>
<path d="M1340 1265.5 L1364.2 1248.1"/>
<path d="M1364.2 1248.1 C1365.5 1246.2 1369.2 1238.6 1372 1236.5 C1374.7 1234.4 1377 1234.6 1380.7 1235.5 C1384.4 1236.5 1390 1238.9 1394.2 1242.3 C1398.4 1245.7 1402.6 1251.2 1405.9 1255.9 C1409.1 1260.5 1411.8 1267.3 1413.6 1270.4 C1415.4 1273.5 1416 1273.6 1416.5 1274.3"/>
<path d="M1406.8 1255.9 L1417.5 1270.4" style="stroke-width:4.5;"/>
<path d="M1411.7 1190 L1447.8 1159.9"/>
<path d="M1447.8 1159.9 C1449 1159.5 1452.4 1157.3 1455.1 1157.5 C1457.7 1157.7 1461.1 1159.9 1463.5 1161.1 C1466 1162.3 1468.6 1164.1 1469.6 1164.7"/>
<path d="M1433 1190 L1455.1 1169.6"/>
<path d="M1451.4 1158.7 L1464.7 1167.2"/>
<!-- boss + peg -->
<path d="M1317.5 1400 C1314.7 1402.6 1306.8 1409.7 1300.5 1415.7 C1294.3 1421.8 1285.6 1430.5 1280 1436.3 C1274.3 1442.2 1269.8 1446 1266.6 1450.8 C1263.5 1455.7 1261.9 1460.9 1261.2 1465.4 C1260.5 1469.8 1260.9 1473.8 1262.4 1477.5 C1263.9 1481.1 1268.3 1485.1 1270.3 1487.2 C1272.2 1489.2 1273.3 1489.2 1273.9 1489.6"/>
<path d="M1313.8 1432.1 C1312 1432.4 1307.2 1431.8 1303 1433.9 C1298.7 1436 1292.7 1440.2 1288.4 1444.8 C1284.2 1449.4 1280.1 1456.1 1277.5 1461.7 C1275 1467.4 1273.5 1473.2 1273.3 1478.7 C1273.1 1484.1 1274.6 1490.4 1276.3 1494.4 C1278 1498.5 1280.8 1500.5 1283.6 1502.9 C1286.4 1505.3 1291.7 1507.9 1293.3 1509"/>
<path d="M1327.2 1440 C1325.1 1440.2 1319.5 1439.3 1315.1 1441.2 C1310.6 1443 1304.8 1446.4 1300.5 1450.8 C1296.3 1455.3 1292.2 1462.1 1289.6 1467.8 C1287.1 1473.4 1285.6 1479.3 1285.4 1484.7 C1285.2 1490.2 1287.1 1496.4 1288.4 1500.5 C1289.7 1504.5 1290.4 1507.3 1293.3 1509 C1296.1 1510.6 1301.3 1511 1305.4 1510.2 C1309.4 1509.4 1314.5 1505.9 1317.5 1504.1 C1320.5 1502.3 1322.5 1500.1 1323.5 1499.3"/>
<path d="M1313.8 1432.1 C1316.1 1432.8 1323.3 1434.2 1327.2 1436.3 C1331 1438.4 1334.4 1441.6 1336.9 1444.8 C1339.3 1448 1340.8 1452.3 1341.7 1455.7 C1342.6 1459.1 1342.5 1463 1342.3 1465.4 C1342.1 1467.8 1340.8 1469.4 1340.5 1470.2"/>
<path d="M1323.5 1460.5 C1322.5 1460.2 1319.9 1458.1 1317.5 1458.7 C1315.1 1459.3 1311.4 1461.6 1309 1464.2 C1306.6 1466.7 1304.2 1470.6 1303 1473.8 C1301.7 1477.1 1301.3 1480.7 1301.7 1483.5 C1302.1 1486.4 1303.2 1488.8 1305.4 1490.8 C1307.6 1492.8 1312 1494.2 1315.1 1495.6 C1318.1 1497.1 1322.1 1498.7 1323.5 1499.3"/>
<path d="M1323.5 1460.5 L1401 1506.5"/>
<path d="M1323.5 1499.3 L1384.1 1534.4"/>
<ellipse cx="1408.5" cy="1528.9" rx="24.5" ry="25"/>
<path d="M1240 1471.4 L1261.8 1461.7"/>
<!-- shift sensor -->
<path d="M1306.2 1277.2 C1308.3 1275.8 1314.3 1270.2 1318.9 1269 C1323.4 1267.8 1329.2 1267.9 1333.4 1269.9 C1337.7 1271.9 1339.5 1276 1344.3 1280.8 C1349.2 1285.6 1357.3 1292.3 1362.5 1299 C1367.6 1305.6 1372.6 1314.7 1375.2 1320.8 C1377.8 1326.8 1377.5 1332.9 1377.9 1335.3"/>
<path d="M1297.1 1286.2 C1301.3 1288.4 1315 1293.2 1322.5 1299 C1330.1 1304.7 1337 1313.8 1342.5 1320.8 C1347.9 1327.7 1352.5 1335.3 1355.2 1340.7 C1357.9 1346.2 1358.2 1351.3 1358.8 1353.4"/>
<path d="M1302.5 1281.7 C1306.6 1283.8 1319.6 1288.7 1327.1 1294.4 C1334.5 1300.2 1341.6 1309.4 1347 1316.2 C1352.5 1323 1357 1330 1359.7 1335.3 C1362.5 1340.6 1362.8 1345.9 1363.4 1348"/>
<path d="M1333.4 1299 L1347.9 1288.1"/>
<path d="M1338.9 1308 L1357 1337.1 L1373.4 1328"/>
<path d="M1338.9 1308 L1351.6 1299"/>
<path d="M1358.8 1353.4 C1360.4 1351.9 1364.7 1347.4 1367.9 1344.4 C1371.1 1341.3 1374.3 1339.8 1377.9 1335.3 C1381.5 1330.7 1387.7 1320.1 1389.7 1317.1"/>
<path d="M1360.7 1349.8 L1386.1 1324.4" style="stroke-width:4.8;"/>
<path d="M1262.6 1313.5 L1298.9 1286.2"/>
<path d="M1262.6 1313.5 C1266.5 1314.7 1278.6 1316.2 1286.2 1320.8 C1293.8 1325.3 1301.9 1333.8 1308 1340.7 C1314 1347.7 1319.5 1355.9 1322.5 1362.5 C1325.5 1369.2 1325.5 1377.7 1326.2 1380.7"/>
<path d="M1268 1309.9 C1272 1311.1 1284.1 1312.6 1291.6 1317.1 C1299.2 1321.7 1307.4 1330.1 1313.4 1337.1 C1319.5 1344.1 1324.9 1352.1 1328 1358.9 C1331 1365.7 1331 1374.8 1331.6 1378"/>
<path d="M1329.8 1380.7 L1358.8 1353.4"/>
<path d="M1244.4 1333.5 L1262.6 1317.1 L1277.1 1320.8 L1282.6 1322.6"/>
<path d="M1282.6 1322.6 C1284.7 1324.7 1290.7 1330.1 1295.3 1335.3 C1299.8 1340.4 1305.6 1347.1 1309.8 1353.4 C1314 1359.8 1318.3 1368.6 1320.7 1373.4 C1323.1 1378.3 1323.7 1381 1324.3 1382.5"/>
<path d="M1269.9 1328 L1282.6 1322.6"/>
<path d="M1277.1 1335.3 L1300.7 1358.9 L1313.4 1353.4"/>
<path d="M1300.7 1358.9 L1308 1391.6"/>
<path d="M1244.4 1333.5 L1269.9 1328 L1288 1346.2 L1300.7 1371.6 L1304.4 1389.8"/>
<path d="M1308 1391.6 L1324.3 1382.5"/>
<path d="M1251.7 1335.3 C1255.3 1337.1 1267.1 1340.7 1273.5 1346.2 C1279.8 1351.6 1286.2 1360.7 1289.8 1368 C1293.5 1375.2 1294.7 1384.9 1295.3 1389.8 C1295.9 1394.6 1293.8 1395.8 1293.5 1397"/>
<path d="M1246.6 1339.3 C1250.2 1341.1 1262 1344.7 1268.4 1350.2 C1274.8 1355.6 1281.1 1364.7 1284.7 1372 C1288.4 1379.2 1289.6 1388.9 1290.2 1393.8 C1290.8 1398.6 1288.7 1399.8 1288.4 1401"/>
<path d="M1241.5 1343.3 C1245.2 1345.1 1257 1348.7 1263.3 1354.2 C1269.7 1359.6 1276 1368.7 1279.7 1376 C1283.3 1383.2 1284.5 1392.9 1285.1 1397.7 C1285.7 1402.6 1283.6 1403.8 1283.3 1405"/>
<path d="M1236.4 1347.3 C1240.1 1349.1 1251.9 1352.7 1258.2 1358.2 C1264.6 1363.6 1270.9 1372.7 1274.6 1380 C1278.2 1387.2 1279.4 1396.9 1280 1401.7 C1280.6 1406.6 1278.5 1407.8 1278.2 1409"/>
<path d="M1222.6 1364.3 C1223.8 1361.9 1226 1352.5 1229.9 1349.8 C1233.8 1347.1 1240.2 1345.9 1246.2 1348 C1252.3 1350.1 1260.5 1356.2 1266.2 1362.5 C1272 1368.9 1277.7 1379.2 1280.8 1386.1 C1283.8 1393.1 1285 1399.4 1284.4 1404.3 C1283.8 1409.1 1280.1 1413.7 1277.1 1415.2 C1274.1 1416.7 1268 1413.7 1266.2 1413.4"/>
<path d="M1229.9 1349.8 L1244.4 1335.3"/>
<path d="M1277.1 1415.2 L1295.3 1402.5"/>
<path d="M1222.6 1364.3 L1222.6 1382.5"/>
<path d="M1222.6 1382.5 C1224.8 1381.9 1230.5 1377.7 1235.4 1378.9 C1240.2 1380.1 1248.1 1385.5 1251.7 1389.8 C1255.3 1394 1256.2 1401.9 1257.1 1404.3" style="stroke-width:4.8;"/>
<path d="M1228.1 1387.9 C1230.2 1388.5 1237.5 1388.8 1240.8 1391.6 C1244.1 1394.3 1246.9 1402.2 1248.1 1404.3" style="stroke-width:3.8;"/>
<path d="M1217.2 1391.6 L1204.5 1407.9"/>
<path d="M1248.1 1406.1 L1228.1 1426.1"/>
<path d="M1222.6 1382.5 L1217.2 1391.6"/>
<path d="M1266.2 1413.4 L1228.1 1431.5"/>
<!-- leader 9 / 10 -->
<path d="M1296.5 1512.5 L1262.8 1598.8 L1381.5 1663.8 L1404 1656.2" style="stroke-width:2.5;"/>
<path d="M1314 1630 L1295.2 1648.8" style="stroke-width:2.5;"/>
<path d="M1459 1635 L1481.5 1625" style="stroke-width:2.5;"/>
<text x="1268" y="1678" font-size="37" textLength="25" lengthAdjust="spacingAndGlyphs">9</text>
<text x="1408" y="1656" font-size="37" textLength="45" lengthAdjust="spacingAndGlyphs">10</text>
<!-- pedal rubber 10 -->
<path d="M1471.1 1612.6 C1470.1 1612.2 1466.9 1611.6 1465.1 1610.6 C1463.2 1609.6 1461.5 1608.2 1460.1 1606.5 C1458.6 1604.8 1457.4 1602.8 1456.5 1600.6 C1455.5 1598.4 1454.8 1595.8 1454.5 1593.2 C1454.1 1590.6 1454 1587.7 1454.2 1584.9 C1454.4 1582 1454.9 1579 1455.7 1576.1 C1456.5 1573.2 1457.5 1570.2 1458.8 1567.4 C1460.1 1564.7 1461.7 1561.9 1463.5 1559.5 C1465.2 1557 1467.2 1554.7 1469.2 1552.7 C1471.3 1550.7 1473.5 1548.9 1475.8 1547.5 C1478 1546.1 1480.4 1545 1482.7 1544.3 C1485 1543.6 1487.4 1543.2 1489.6 1543.3 C1491.8 1543.3 1493.9 1543.7 1495.9 1544.5 C1497.8 1545.2 1500.4 1547.3 1501.3 1547.8" style="stroke-width:3.2;"/>
<path d="M1475.6 1615.2 C1474.6 1614.9 1471.4 1614.2 1469.5 1613.2 C1467.7 1612.2 1466 1610.8 1464.6 1609.1 C1463.1 1607.5 1461.9 1605.4 1460.9 1603.2 C1460 1601 1459.3 1598.5 1458.9 1595.9 C1458.6 1593.2 1458.5 1590.4 1458.7 1587.5 C1458.9 1584.7 1459.4 1581.6 1460.2 1578.7 C1460.9 1575.8 1462 1572.9 1463.3 1570.1 C1464.6 1567.3 1466.2 1564.6 1467.9 1562.1 C1469.7 1559.6 1471.6 1557.3 1473.7 1555.3 C1475.8 1553.3 1478 1551.5 1480.3 1550.1 C1482.5 1548.8 1484.9 1547.7 1487.2 1546.9 C1489.5 1546.2 1491.8 1545.9 1494 1545.9 C1496.2 1545.9 1498.4 1546.4 1500.4 1547.1 C1502.3 1547.9 1504.9 1549.9 1505.8 1550.5" style="stroke-width:2.5;"/>
<path d="M1480.1 1617.8 C1479.1 1617.5 1475.9 1616.9 1474 1615.9 C1472.2 1614.8 1470.5 1613.4 1469 1611.8 C1467.6 1610.1 1466.4 1608.1 1465.4 1605.9 C1464.5 1603.7 1463.8 1601.1 1463.4 1598.5 C1463 1595.9 1462.9 1593 1463.2 1590.2 C1463.4 1587.3 1463.9 1584.3 1464.6 1581.4 C1465.4 1578.5 1466.5 1575.5 1467.8 1572.7 C1469.1 1569.9 1470.7 1567.2 1472.4 1564.7 C1474.1 1562.3 1476.1 1559.9 1478.2 1557.9 C1480.2 1556 1482.5 1554.2 1484.7 1552.8 C1487 1551.4 1489.4 1550.3 1491.7 1549.6 C1494 1548.9 1496.3 1548.5 1498.5 1548.6 C1500.7 1548.6 1502.9 1549 1504.8 1549.8 C1506.8 1550.5 1509.4 1552.6 1510.3 1553.1" style="stroke-width:2.5;"/>
<path d="M1484.6 1620.5 C1483.5 1620.2 1480.3 1619.5 1478.5 1618.5 C1476.7 1617.5 1474.9 1616.1 1473.5 1614.4 C1472.1 1612.8 1470.8 1610.7 1469.9 1608.5 C1469 1606.3 1468.3 1603.8 1467.9 1601.2 C1467.5 1598.5 1467.4 1595.7 1467.6 1592.8 C1467.8 1590 1468.3 1586.9 1469.1 1584 C1469.9 1581.1 1471 1578.1 1472.3 1575.4 C1473.6 1572.6 1475.2 1569.8 1476.9 1567.4 C1478.6 1564.9 1480.6 1562.6 1482.7 1560.6 C1484.7 1558.6 1487 1556.8 1489.2 1555.4 C1491.5 1554 1493.8 1552.9 1496.1 1552.2 C1498.4 1551.5 1500.8 1551.2 1503 1551.2 C1505.2 1551.2 1507.4 1551.6 1509.3 1552.4 C1511.3 1553.2 1513.8 1555.2 1514.7 1555.8" style="stroke-width:2.5;"/>
<path d="M1489 1623.1 C1488 1622.8 1484.8 1622.2 1483 1621.1 C1481.1 1620.1 1479.4 1618.7 1478 1617.1 C1476.6 1615.4 1475.3 1613.4 1474.4 1611.2 C1473.4 1608.9 1472.7 1606.4 1472.4 1603.8 C1472 1601.2 1471.9 1598.3 1472.1 1595.5 C1472.3 1592.6 1472.8 1589.6 1473.6 1586.7 C1474.4 1583.8 1475.5 1580.8 1476.7 1578 C1478 1575.2 1479.6 1572.5 1481.4 1570 C1483.1 1567.6 1485.1 1565.2 1487.1 1563.2 C1489.2 1561.2 1491.4 1559.5 1493.7 1558.1 C1495.9 1556.7 1498.3 1555.6 1500.6 1554.9 C1502.9 1554.2 1505.3 1553.8 1507.5 1553.8 C1509.7 1553.9 1511.8 1554.3 1513.8 1555.1 C1515.8 1555.8 1518.3 1557.9 1519.2 1558.4" style="stroke-width:2.5;"/>
<path d="M1493.5 1625.8 C1492.5 1625.4 1489.3 1624.8 1487.5 1623.8 C1485.6 1622.8 1483.9 1621.4 1482.5 1619.7 C1481 1618 1479.8 1616 1478.8 1613.8 C1477.9 1611.6 1477.2 1609.1 1476.8 1606.4 C1476.5 1603.8 1476.4 1601 1476.6 1598.1 C1476.8 1595.2 1477.3 1592.2 1478.1 1589.3 C1478.8 1586.4 1479.9 1583.4 1481.2 1580.6 C1482.5 1577.9 1484.1 1575.1 1485.8 1572.7 C1487.6 1570.2 1489.5 1567.9 1491.6 1565.9 C1493.7 1563.9 1495.9 1562.1 1498.2 1560.7 C1500.4 1559.3 1502.8 1558.2 1505.1 1557.5 C1507.4 1556.8 1509.7 1556.5 1511.9 1556.5 C1514.1 1556.5 1516.3 1556.9 1518.3 1557.7 C1520.2 1558.5 1522.8 1560.5 1523.7 1561.1" style="stroke-width:2.5;"/>
<path d="M1498 1628.4 C1497 1628.1 1493.8 1627.4 1491.9 1626.4 C1490.1 1625.4 1488.4 1624 1486.9 1622.4 C1485.5 1620.7 1484.3 1618.7 1483.3 1616.4 C1482.4 1614.2 1481.7 1611.7 1481.3 1609.1 C1480.9 1606.5 1480.9 1603.6 1481.1 1600.7 C1481.3 1597.9 1481.8 1594.9 1482.5 1592 C1483.3 1589 1484.4 1586.1 1485.7 1583.3 C1487 1580.5 1488.6 1577.8 1490.3 1575.3 C1492 1572.8 1494 1570.5 1496.1 1568.5 C1498.1 1566.5 1500.4 1564.8 1502.6 1563.4 C1504.9 1562 1507.3 1560.9 1509.6 1560.2 C1511.9 1559.5 1514.2 1559.1 1516.4 1559.1 C1518.6 1559.2 1520.8 1559.6 1522.8 1560.3 C1524.7 1561.1 1527.3 1563.1 1528.2 1563.7" style="stroke-width:2.5;"/>
<path d="M1502.5 1631.1 C1501.4 1630.7 1498.2 1630.1 1496.4 1629.1 C1494.6 1628.1 1492.8 1626.7 1491.4 1625 C1490 1623.3 1488.7 1621.3 1487.8 1619.1 C1486.9 1616.9 1486.2 1614.3 1485.8 1611.7 C1485.4 1609.1 1485.3 1606.2 1485.5 1603.4 C1485.7 1600.5 1486.2 1597.5 1487 1594.6 C1487.8 1591.7 1488.9 1588.7 1490.2 1585.9 C1491.5 1583.2 1493.1 1580.4 1494.8 1578 C1496.5 1575.5 1498.5 1573.2 1500.6 1571.2 C1502.6 1569.2 1504.9 1567.4 1507.1 1566 C1509.4 1564.6 1511.7 1563.5 1514 1562.8 C1516.3 1562.1 1518.7 1561.7 1520.9 1561.8 C1523.1 1561.8 1525.3 1562.2 1527.2 1563 C1529.2 1563.7 1531.7 1565.8 1532.6 1566.3" style="stroke-width:2.5;"/>
<path d="M1506.9 1633.7 C1505.9 1633.4 1502.7 1632.7 1500.9 1631.7 C1499 1630.7 1497.3 1629.3 1495.9 1627.6 C1494.5 1626 1493.2 1623.9 1492.3 1621.7 C1491.3 1619.5 1490.7 1617 1490.3 1614.4 C1489.9 1611.7 1489.8 1608.9 1490 1606 C1490.2 1603.2 1490.7 1600.1 1491.5 1597.2 C1492.3 1594.3 1493.4 1591.4 1494.7 1588.6 C1495.9 1585.8 1497.5 1583.1 1499.3 1580.6 C1501 1578.1 1503 1575.8 1505 1573.8 C1507.1 1571.8 1509.3 1570 1511.6 1568.6 C1513.8 1567.3 1516.2 1566.2 1518.5 1565.4 C1520.8 1564.7 1523.2 1564.4 1525.4 1564.4 C1527.6 1564.4 1529.7 1564.9 1531.7 1565.6 C1533.7 1566.4 1536.2 1568.4 1537.1 1569" style="stroke-width:2.5;"/>
<path d="M1511.4 1636.3 C1510.4 1636 1507.2 1635.4 1505.4 1634.4 C1503.5 1633.3 1501.8 1631.9 1500.4 1630.3 C1498.9 1628.6 1497.7 1626.6 1496.8 1624.4 C1495.8 1622.2 1495.1 1619.6 1494.7 1617 C1494.4 1614.4 1494.3 1611.5 1494.5 1608.7 C1494.7 1605.8 1495.2 1602.8 1496 1599.9 C1496.7 1597 1497.8 1594 1499.1 1591.2 C1500.4 1588.4 1502 1585.7 1503.7 1583.2 C1505.5 1580.8 1507.5 1578.4 1509.5 1576.4 C1511.6 1574.5 1513.8 1572.7 1516.1 1571.3 C1518.3 1569.9 1520.7 1568.8 1523 1568.1 C1525.3 1567.4 1527.7 1567 1529.8 1567.1 C1532 1567.1 1534.2 1567.5 1536.2 1568.3 C1538.1 1569 1540.7 1571.1 1541.6 1571.6" style="stroke-width:2.5;"/>
<path d="M1515.9 1639 C1514.9 1638.7 1511.7 1638 1509.8 1637 C1508 1636 1506.3 1634.6 1504.8 1632.9 C1503.4 1631.3 1502.2 1629.2 1501.2 1627 C1500.3 1624.8 1499.6 1622.3 1499.2 1619.7 C1498.8 1617 1498.8 1614.2 1499 1611.3 C1499.2 1608.5 1499.7 1605.4 1500.5 1602.5 C1501.2 1599.6 1502.3 1596.6 1503.6 1593.9 C1504.9 1591.1 1506.5 1588.3 1508.2 1585.9 C1509.9 1583.4 1511.9 1581.1 1514 1579.1 C1516 1577.1 1518.3 1575.3 1520.5 1573.9 C1522.8 1572.5 1525.2 1571.4 1527.5 1570.7 C1529.8 1570 1532.1 1569.7 1534.3 1569.7 C1536.5 1569.7 1538.7 1570.1 1540.7 1570.9 C1542.6 1571.7 1545.2 1573.7 1546.1 1574.3" style="stroke-width:2.5;"/>
<path d="M1520.4 1641.6 C1519.4 1641.3 1516.2 1640.7 1514.3 1639.6 C1512.5 1638.6 1510.8 1637.2 1509.3 1635.6 C1507.9 1633.9 1506.6 1631.9 1505.7 1629.7 C1504.8 1627.4 1504.1 1624.9 1503.7 1622.3 C1503.3 1619.7 1503.2 1616.8 1503.4 1614 C1503.6 1611.1 1504.2 1608.1 1504.9 1605.2 C1505.7 1602.3 1506.8 1599.3 1508.1 1596.5 C1509.4 1593.7 1511 1591 1512.7 1588.5 C1514.4 1586.1 1516.4 1583.7 1518.5 1581.7 C1520.5 1579.7 1522.8 1578 1525 1576.6 C1527.3 1575.2 1529.7 1574.1 1531.9 1573.4 C1534.2 1572.7 1536.6 1572.3 1538.8 1572.3 C1541 1572.4 1543.2 1572.8 1545.1 1573.6 C1547.1 1574.3 1549.6 1576.4 1550.5 1576.9" style="stroke-width:2.5;"/>
<path d="M1524.8 1644.3 C1523.8 1643.9 1520.6 1643.3 1518.8 1642.3 C1516.9 1641.3 1515.2 1639.9 1513.8 1638.2 C1512.4 1636.5 1511.1 1634.5 1510.2 1632.3 C1509.2 1630.1 1508.6 1627.6 1508.2 1624.9 C1507.8 1622.3 1507.7 1619.5 1507.9 1616.6 C1508.1 1613.7 1508.6 1610.7 1509.4 1607.8 C1510.2 1604.9 1511.3 1601.9 1512.6 1599.1 C1513.9 1596.4 1515.4 1593.6 1517.2 1591.2 C1518.9 1588.7 1520.9 1586.4 1522.9 1584.4 C1525 1582.4 1527.2 1580.6 1529.5 1579.2 C1531.7 1577.8 1534.1 1576.7 1536.4 1576 C1538.7 1575.3 1541.1 1575 1543.3 1575 C1545.5 1575 1547.7 1575.4 1549.6 1576.2 C1551.6 1577 1554.1 1579 1555 1579.6" style="stroke-width:2.5;"/>
<path d="M1529.3 1646.9 C1528.3 1646.6 1525.1 1645.9 1523.3 1644.9 C1521.4 1643.9 1519.7 1642.5 1518.3 1640.9 C1516.8 1639.2 1515.6 1637.2 1514.7 1634.9 C1513.7 1632.7 1513 1630.2 1512.7 1627.6 C1512.3 1625 1512.2 1622.1 1512.4 1619.2 C1512.6 1616.4 1513.1 1613.4 1513.9 1610.5 C1514.7 1607.5 1515.7 1604.6 1517 1601.8 C1518.3 1599 1519.9 1596.3 1521.6 1593.8 C1523.4 1591.3 1525.4 1589 1527.4 1587 C1529.5 1585 1531.7 1583.3 1534 1581.9 C1536.2 1580.5 1538.6 1579.4 1540.9 1578.7 C1543.2 1578 1545.6 1577.6 1547.8 1577.6 C1549.9 1577.7 1552.1 1578.1 1554.1 1578.8 C1556 1579.6 1558.6 1581.6 1559.5 1582.2" style="stroke-width:2.5;"/>
<path d="M1533.8 1649.6 C1532.8 1649.2 1529.6 1648.6 1527.7 1647.6 C1525.9 1646.6 1524.2 1645.2 1522.7 1643.5 C1521.3 1641.8 1520.1 1639.8 1519.1 1637.6 C1518.2 1635.4 1517.5 1632.8 1517.1 1630.2 C1516.8 1627.6 1516.7 1624.7 1516.9 1621.9 C1517.1 1619 1517.6 1616 1518.4 1613.1 C1519.1 1610.2 1520.2 1607.2 1521.5 1604.4 C1522.8 1601.7 1524.4 1598.9 1526.1 1596.5 C1527.8 1594 1529.8 1591.7 1531.9 1589.7 C1533.9 1587.7 1536.2 1585.9 1538.4 1584.5 C1540.7 1583.1 1543.1 1582 1545.4 1581.3 C1547.7 1580.6 1550 1580.2 1552.2 1580.3 C1554.4 1580.3 1556.6 1580.7 1558.6 1581.5 C1560.5 1582.2 1563.1 1584.3 1564 1584.8" style="stroke-width:2.5;"/>
<path d="M1538.3 1652.2 C1537.3 1651.9 1534.1 1651.2 1532.2 1650.2 C1530.4 1649.2 1528.7 1647.8 1527.2 1646.1 C1525.8 1644.5 1524.5 1642.4 1523.6 1640.2 C1522.7 1638 1522 1635.5 1521.6 1632.9 C1521.2 1630.2 1521.1 1627.4 1521.3 1624.5 C1521.5 1621.7 1522.1 1618.6 1522.8 1615.7 C1523.6 1612.8 1524.7 1609.9 1526 1607.1 C1527.3 1604.3 1528.9 1601.6 1530.6 1599.1 C1532.3 1596.6 1534.3 1594.3 1536.4 1592.3 C1538.4 1590.3 1540.7 1588.5 1542.9 1587.1 C1545.2 1585.8 1547.6 1584.7 1549.9 1583.9 C1552.2 1583.2 1554.5 1582.9 1556.7 1582.9 C1558.9 1582.9 1561.1 1583.4 1563 1584.1 C1565 1584.9 1567.5 1586.9 1568.4 1587.5" style="stroke-width:2.5;"/>
<path d="M1542.7 1654.8 C1541.7 1654.5 1538.5 1653.9 1536.7 1652.9 C1534.9 1651.8 1533.1 1650.4 1531.7 1648.8 C1530.3 1647.1 1529 1645.1 1528.1 1642.9 C1527.1 1640.7 1526.5 1638.1 1526.1 1635.5 C1525.7 1632.9 1525.6 1630 1525.8 1627.2 C1526 1624.3 1526.5 1621.3 1527.3 1618.4 C1528.1 1615.5 1529.2 1612.5 1530.5 1609.7 C1531.8 1606.9 1533.3 1604.2 1535.1 1601.7 C1536.8 1599.3 1538.8 1596.9 1540.8 1594.9 C1542.9 1593 1545.2 1591.2 1547.4 1589.8 C1549.7 1588.4 1552 1587.3 1554.3 1586.6 C1556.6 1585.9 1559 1585.5 1561.2 1585.6 C1563.4 1585.6 1565.6 1586 1567.5 1586.8 C1569.5 1587.5 1572 1589.6 1572.9 1590.1" style="stroke-width:2.5;"/>
<path d="M1547.2 1657.5 C1546.2 1657.2 1543 1656.5 1541.2 1655.5 C1539.3 1654.5 1537.6 1653.1 1536.2 1651.4 C1534.7 1649.8 1533.5 1647.7 1532.6 1645.5 C1531.6 1643.3 1530.9 1640.8 1530.6 1638.2 C1530.2 1635.5 1530.1 1632.7 1530.3 1629.8 C1530.5 1627 1531 1623.9 1531.8 1621 C1532.6 1618.1 1533.6 1615.1 1534.9 1612.4 C1536.2 1609.6 1537.8 1606.8 1539.5 1604.4 C1541.3 1601.9 1543.3 1599.6 1545.3 1597.6 C1547.4 1595.6 1549.6 1593.8 1551.9 1592.4 C1554.1 1591 1556.5 1589.9 1558.8 1589.2 C1561.1 1588.5 1563.5 1588.2 1565.7 1588.2 C1567.9 1588.2 1570 1588.6 1572 1589.4 C1573.9 1590.2 1576.5 1592.2 1577.4 1592.8" style="stroke-width:2.5;"/>
<path d="M1551.7 1660.1 C1550.7 1659.8 1547.5 1659.2 1545.6 1658.1 C1543.8 1657.1 1542.1 1655.7 1540.7 1654.1 C1539.2 1652.4 1538 1650.4 1537 1648.2 C1536.1 1645.9 1535.4 1643.4 1535 1640.8 C1534.7 1638.2 1534.6 1635.3 1534.8 1632.5 C1535 1629.6 1535.5 1626.6 1536.3 1623.7 C1537 1620.8 1538.1 1617.8 1539.4 1615 C1540.7 1612.2 1542.3 1609.5 1544 1607 C1545.8 1604.6 1547.7 1602.2 1549.8 1600.2 C1551.8 1598.2 1554.1 1596.5 1556.4 1595.1 C1558.6 1593.7 1561 1592.6 1563.3 1591.9 C1565.6 1591.2 1567.9 1590.8 1570.1 1590.8 C1572.3 1590.9 1574.5 1591.3 1576.5 1592.1 C1578.4 1592.8 1581 1594.9 1581.9 1595.4" style="stroke-width:2.5;"/>
<path d="M1556.2 1662.8 C1555.2 1662.4 1552 1661.8 1550.1 1660.8 C1548.3 1659.8 1546.6 1658.4 1545.1 1656.7 C1543.7 1655 1542.5 1653 1541.5 1650.8 C1540.6 1648.6 1539.9 1646.1 1539.5 1643.4 C1539.1 1640.8 1539 1638 1539.2 1635.1 C1539.5 1632.2 1540 1629.2 1540.7 1626.3 C1541.5 1623.4 1542.6 1620.4 1543.9 1617.6 C1545.2 1614.9 1546.8 1612.1 1548.5 1609.7 C1550.2 1607.2 1552.2 1604.9 1554.3 1602.9 C1556.3 1600.9 1558.6 1599.1 1560.8 1597.7 C1563.1 1596.3 1565.5 1595.2 1567.8 1594.5 C1570.1 1593.8 1572.4 1593.5 1574.6 1593.5 C1576.8 1593.5 1579 1593.9 1580.9 1594.7 C1582.9 1595.5 1585.4 1597.5 1586.3 1598.1" style="stroke-width:2.5;"/>
<path d="M1560.6 1665.4 C1559.6 1665.1 1556.4 1664.4 1554.6 1663.4 C1552.8 1662.4 1551 1661 1549.6 1659.4 C1548.2 1657.7 1546.9 1655.7 1546 1653.4 C1545.1 1651.2 1544.4 1648.7 1544 1646.1 C1543.6 1643.5 1543.5 1640.6 1543.7 1637.7 C1543.9 1634.9 1544.4 1631.9 1545.2 1629 C1546 1626 1547.1 1623.1 1548.4 1620.3 C1549.7 1617.5 1551.2 1614.8 1553 1612.3 C1554.7 1609.8 1556.7 1607.5 1558.7 1605.5 C1560.8 1603.5 1563.1 1601.8 1565.3 1600.4 C1567.6 1599 1569.9 1597.9 1572.2 1597.2 C1574.5 1596.5 1576.9 1596.1 1579.1 1596.1 C1581.3 1596.2 1583.5 1596.6 1585.4 1597.3 C1587.4 1598.1 1589.9 1600.1 1590.8 1600.7" style="stroke-width:2.5;"/>
<path d="M1501.3 1547.8 L1595.3 1603.3" style="stroke-width:3.4;"/>
<path d="M1471.1 1612.6 L1565.1 1668.1" style="stroke-width:3.4;"/>
<ellipse cx="1575.5" cy="1633.5" rx="25" ry="36.5" transform="rotate(25 1575.5 1633.5)" style="fill:#fff;"/>
<ellipse cx="1576" cy="1634" rx="15.5" ry="20.5" transform="rotate(25 1576 1634)"/>
<!-- FWD arrow -->
<path d="M85 1966.2 L125 1903.8 L130 1905 L136.2 1911.2 L195 1881.2 L203.8 1886.2 L205 1937.5 L136.2 1975 L136.2 1993.8Z" style="stroke-width:3.4;"/>
<path d="M95 1967.5 L133.8 1908 L135 1926.2 L200 1891.2 L202 1936.2" style="stroke-width:3;"/>
<path d="M135 1926.2 L136.2 1911.2"/>
<path d="M200 1891.2 L195 1881.2"/>
<path d="M95 1967.5 L85 1966.2"/>
<text transform="matrix(1.12 -0.56 0.17 1 130.5 1968)" x="0" y="0" font-size="37" font-weight="bold" font-style="italic" textLength="60" lengthAdjust="spacingAndGlyphs">FWD</text>
<!-- drawing number -->
<text x="22.5" y="2046" font-size="33" textLength="291.5" lengthAdjust="spacingAndGlyphs">BMN1470-Y160</text>
</g>
</svg>
</body>
</html>
